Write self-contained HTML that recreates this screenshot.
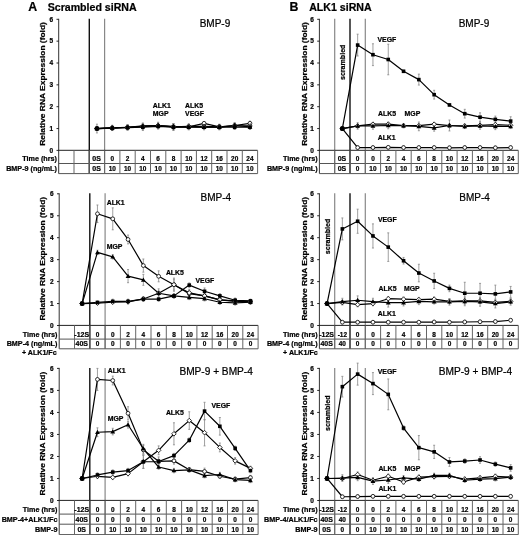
<!DOCTYPE html><html><head><meta charset="utf-8"><style>html,body{margin:0;padding:0;background:#fff}svg{display:block;filter:blur(0.35px)}text{font-family:"Liberation Sans",sans-serif;fill:#000;stroke:#000;stroke-width:0.22px}</style></head><body>
<svg width="520" height="535" viewBox="0 0 520 535">
<rect width="520" height="535" fill="#fff"/>
<text x="28.3" y="11.2" font-size="12.3" font-weight="bold" text-anchor="start">A</text>
<text x="47.7" y="11" font-size="10.6" font-weight="bold" text-anchor="start">Scrambled siRNA</text>
<text x="289.6" y="10.6" font-size="12.3" font-weight="bold" text-anchor="start">B</text>
<text x="309.2" y="10.6" font-size="10.6" font-weight="bold" text-anchor="start">ALK1 siRNA</text>
<line x1="89.3" y1="18.8" x2="89.3" y2="173.6" stroke="#111" stroke-width="1.4"/>
<line x1="104.6" y1="18.8" x2="104.6" y2="173.6" stroke="#888" stroke-width="1.2"/>
<line x1="58.7" y1="18.8" x2="58.7" y2="173.6" stroke="#333" stroke-width="1.0"/>
<line x1="56.5" y1="150.4" x2="58.7" y2="150.4" stroke="#111" stroke-width="0.9"/>
<text x="53.1" y="152.7" font-size="6.5" font-weight="bold" text-anchor="end">0</text>
<line x1="56.5" y1="128.55" x2="58.7" y2="128.55" stroke="#111" stroke-width="0.9"/>
<text x="53.1" y="130.85" font-size="6.5" font-weight="bold" text-anchor="end">1</text>
<line x1="56.5" y1="106.7" x2="58.7" y2="106.7" stroke="#111" stroke-width="0.9"/>
<text x="53.1" y="109" font-size="6.5" font-weight="bold" text-anchor="end">2</text>
<line x1="56.5" y1="84.85" x2="58.7" y2="84.85" stroke="#111" stroke-width="0.9"/>
<text x="53.1" y="87.15" font-size="6.5" font-weight="bold" text-anchor="end">3</text>
<line x1="56.5" y1="63" x2="58.7" y2="63" stroke="#111" stroke-width="0.9"/>
<text x="53.1" y="65.3" font-size="6.5" font-weight="bold" text-anchor="end">4</text>
<line x1="56.5" y1="41.15" x2="58.7" y2="41.15" stroke="#111" stroke-width="0.9"/>
<text x="53.1" y="43.45" font-size="6.5" font-weight="bold" text-anchor="end">5</text>
<line x1="56.5" y1="19.3" x2="58.7" y2="19.3" stroke="#111" stroke-width="0.9"/>
<text x="53.1" y="21.6" font-size="6.5" font-weight="bold" text-anchor="end">6</text>
<text x="0" y="0" font-size="7.4" font-weight="bold" text-anchor="middle" transform="translate(45.4 83.95) rotate(-90) scale(1.14 1)">Relative RNA Expression (fold)</text>
<line x1="58.2" y1="150.3" x2="257.6" y2="150.3" stroke="#222" stroke-width="1.0"/>
<line x1="58.7" y1="163.5" x2="257.6" y2="163.5" stroke="#555" stroke-width="1.0"/>
<line x1="58.7" y1="173.6" x2="257.6" y2="173.6" stroke="#555" stroke-width="1.0"/>
<line x1="74" y1="150.3" x2="74" y2="173.6" stroke="#666" stroke-width="1.0"/>
<line x1="89.3" y1="150.3" x2="89.3" y2="173.6" stroke="#666" stroke-width="1.0"/>
<line x1="104.6" y1="150.3" x2="104.6" y2="173.6" stroke="#666" stroke-width="1.0"/>
<line x1="119.9" y1="150.3" x2="119.9" y2="173.6" stroke="#666" stroke-width="1.0"/>
<line x1="135.2" y1="150.3" x2="135.2" y2="173.6" stroke="#666" stroke-width="1.0"/>
<line x1="150.5" y1="150.3" x2="150.5" y2="173.6" stroke="#666" stroke-width="1.0"/>
<line x1="165.8" y1="150.3" x2="165.8" y2="173.6" stroke="#666" stroke-width="1.0"/>
<line x1="181.1" y1="150.3" x2="181.1" y2="173.6" stroke="#666" stroke-width="1.0"/>
<line x1="196.4" y1="150.3" x2="196.4" y2="173.6" stroke="#666" stroke-width="1.0"/>
<line x1="211.7" y1="150.3" x2="211.7" y2="173.6" stroke="#666" stroke-width="1.0"/>
<line x1="227" y1="150.3" x2="227" y2="173.6" stroke="#666" stroke-width="1.0"/>
<line x1="242.3" y1="150.3" x2="242.3" y2="173.6" stroke="#666" stroke-width="1.0"/>
<line x1="257.6" y1="150.3" x2="257.6" y2="173.6" stroke="#666" stroke-width="1.0"/>
<text x="96.55" y="161.1" font-size="7.0" font-weight="bold" text-anchor="middle">0S</text>
<text transform="translate(112.25 161.1) scale(0.95 1)" font-size="6.8" font-weight="bold" text-anchor="middle">0</text>
<text transform="translate(127.55 161.1) scale(0.95 1)" font-size="6.8" font-weight="bold" text-anchor="middle">2</text>
<text transform="translate(142.85 161.1) scale(0.95 1)" font-size="6.8" font-weight="bold" text-anchor="middle">4</text>
<text transform="translate(158.15 161.1) scale(0.95 1)" font-size="6.8" font-weight="bold" text-anchor="middle">6</text>
<text transform="translate(173.45 161.1) scale(0.95 1)" font-size="6.8" font-weight="bold" text-anchor="middle">8</text>
<text transform="translate(188.75 161.1) scale(0.95 1)" font-size="6.8" font-weight="bold" text-anchor="middle">10</text>
<text transform="translate(204.05 161.1) scale(0.95 1)" font-size="6.8" font-weight="bold" text-anchor="middle">12</text>
<text transform="translate(219.35 161.1) scale(0.95 1)" font-size="6.8" font-weight="bold" text-anchor="middle">16</text>
<text transform="translate(234.65 161.1) scale(0.95 1)" font-size="6.8" font-weight="bold" text-anchor="middle">20</text>
<text transform="translate(249.95 161.1) scale(0.95 1)" font-size="6.8" font-weight="bold" text-anchor="middle">24</text>
<text x="56.9" y="161.1" font-size="7.2" font-weight="bold" text-anchor="end">Time (hrs)</text>
<text x="96.55" y="171.2" font-size="7.0" font-weight="bold" text-anchor="middle">0S</text>
<text transform="translate(112.25 171.2) scale(0.95 1)" font-size="6.8" font-weight="bold" text-anchor="middle">10</text>
<text transform="translate(127.55 171.2) scale(0.95 1)" font-size="6.8" font-weight="bold" text-anchor="middle">10</text>
<text transform="translate(142.85 171.2) scale(0.95 1)" font-size="6.8" font-weight="bold" text-anchor="middle">10</text>
<text transform="translate(158.15 171.2) scale(0.95 1)" font-size="6.8" font-weight="bold" text-anchor="middle">10</text>
<text transform="translate(173.45 171.2) scale(0.95 1)" font-size="6.8" font-weight="bold" text-anchor="middle">10</text>
<text transform="translate(188.75 171.2) scale(0.95 1)" font-size="6.8" font-weight="bold" text-anchor="middle">10</text>
<text transform="translate(204.05 171.2) scale(0.95 1)" font-size="6.8" font-weight="bold" text-anchor="middle">10</text>
<text transform="translate(219.35 171.2) scale(0.95 1)" font-size="6.8" font-weight="bold" text-anchor="middle">10</text>
<text transform="translate(234.65 171.2) scale(0.95 1)" font-size="6.8" font-weight="bold" text-anchor="middle">10</text>
<text transform="translate(249.95 171.2) scale(0.95 1)" font-size="6.8" font-weight="bold" text-anchor="middle">10</text>
<text x="56.9" y="171.2" font-size="7.2" font-weight="bold" text-anchor="end">BMP-9 (ng/mL)</text>
<text x="199.7" y="26.7" font-size="10" font-weight="normal" text-anchor="start">BMP-9</text>
<line x1="112.25" y1="125.93" x2="112.25" y2="130.3" stroke="#888" stroke-width="0.8"/>
<line x1="111.25" y1="125.93" x2="113.25" y2="125.93" stroke="#888" stroke-width="0.8"/>
<line x1="111.25" y1="130.3" x2="113.25" y2="130.3" stroke="#888" stroke-width="0.8"/>
<line x1="127.55" y1="125.27" x2="127.55" y2="129.64" stroke="#888" stroke-width="0.8"/>
<line x1="126.55" y1="125.27" x2="128.55" y2="125.27" stroke="#888" stroke-width="0.8"/>
<line x1="126.55" y1="129.64" x2="128.55" y2="129.64" stroke="#888" stroke-width="0.8"/>
<line x1="142.85" y1="124.18" x2="142.85" y2="128.55" stroke="#888" stroke-width="0.8"/>
<line x1="141.85" y1="124.18" x2="143.85" y2="124.18" stroke="#888" stroke-width="0.8"/>
<line x1="141.85" y1="128.55" x2="143.85" y2="128.55" stroke="#888" stroke-width="0.8"/>
<line x1="158.15" y1="123.31" x2="158.15" y2="128.55" stroke="#888" stroke-width="0.8"/>
<line x1="157.15" y1="123.31" x2="159.15" y2="123.31" stroke="#888" stroke-width="0.8"/>
<line x1="157.15" y1="128.55" x2="159.15" y2="128.55" stroke="#888" stroke-width="0.8"/>
<line x1="173.45" y1="124.18" x2="173.45" y2="129.42" stroke="#888" stroke-width="0.8"/>
<line x1="172.45" y1="124.18" x2="174.45" y2="124.18" stroke="#888" stroke-width="0.8"/>
<line x1="172.45" y1="129.42" x2="174.45" y2="129.42" stroke="#888" stroke-width="0.8"/>
<line x1="188.75" y1="124.62" x2="188.75" y2="128.99" stroke="#888" stroke-width="0.8"/>
<line x1="187.75" y1="124.62" x2="189.75" y2="124.62" stroke="#888" stroke-width="0.8"/>
<line x1="187.75" y1="128.99" x2="189.75" y2="128.99" stroke="#888" stroke-width="0.8"/>
<line x1="204.05" y1="121.56" x2="204.05" y2="125.05" stroke="#888" stroke-width="0.8"/>
<line x1="203.05" y1="121.56" x2="205.05" y2="121.56" stroke="#888" stroke-width="0.8"/>
<line x1="203.05" y1="125.05" x2="205.05" y2="125.05" stroke="#888" stroke-width="0.8"/>
<line x1="219.35" y1="124.62" x2="219.35" y2="128.99" stroke="#888" stroke-width="0.8"/>
<line x1="218.35" y1="124.62" x2="220.35" y2="124.62" stroke="#888" stroke-width="0.8"/>
<line x1="218.35" y1="128.99" x2="220.35" y2="128.99" stroke="#888" stroke-width="0.8"/>
<line x1="234.65" y1="123.31" x2="234.65" y2="127.68" stroke="#888" stroke-width="0.8"/>
<line x1="233.65" y1="123.31" x2="235.65" y2="123.31" stroke="#888" stroke-width="0.8"/>
<line x1="233.65" y1="127.68" x2="235.65" y2="127.68" stroke="#888" stroke-width="0.8"/>
<line x1="249.95" y1="121.12" x2="249.95" y2="125.49" stroke="#888" stroke-width="0.8"/>
<line x1="248.95" y1="121.12" x2="250.95" y2="121.12" stroke="#888" stroke-width="0.8"/>
<line x1="248.95" y1="125.49" x2="250.95" y2="125.49" stroke="#888" stroke-width="0.8"/>
<line x1="112.25" y1="125.27" x2="112.25" y2="130.52" stroke="#888" stroke-width="0.8"/>
<line x1="111.25" y1="125.27" x2="113.25" y2="125.27" stroke="#888" stroke-width="0.8"/>
<line x1="111.25" y1="130.52" x2="113.25" y2="130.52" stroke="#888" stroke-width="0.8"/>
<line x1="127.55" y1="125.05" x2="127.55" y2="129.42" stroke="#888" stroke-width="0.8"/>
<line x1="126.55" y1="125.05" x2="128.55" y2="125.05" stroke="#888" stroke-width="0.8"/>
<line x1="126.55" y1="129.42" x2="128.55" y2="129.42" stroke="#888" stroke-width="0.8"/>
<line x1="142.85" y1="123.09" x2="142.85" y2="129.64" stroke="#888" stroke-width="0.8"/>
<line x1="141.85" y1="123.09" x2="143.85" y2="123.09" stroke="#888" stroke-width="0.8"/>
<line x1="141.85" y1="129.64" x2="143.85" y2="129.64" stroke="#888" stroke-width="0.8"/>
<line x1="158.15" y1="122.87" x2="158.15" y2="128.11" stroke="#888" stroke-width="0.8"/>
<line x1="157.15" y1="122.87" x2="159.15" y2="122.87" stroke="#888" stroke-width="0.8"/>
<line x1="157.15" y1="128.11" x2="159.15" y2="128.11" stroke="#888" stroke-width="0.8"/>
<line x1="173.45" y1="123.52" x2="173.45" y2="130.08" stroke="#888" stroke-width="0.8"/>
<line x1="172.45" y1="123.52" x2="174.45" y2="123.52" stroke="#888" stroke-width="0.8"/>
<line x1="172.45" y1="130.08" x2="174.45" y2="130.08" stroke="#888" stroke-width="0.8"/>
<line x1="188.75" y1="123.74" x2="188.75" y2="128.99" stroke="#888" stroke-width="0.8"/>
<line x1="187.75" y1="123.74" x2="189.75" y2="123.74" stroke="#888" stroke-width="0.8"/>
<line x1="187.75" y1="128.99" x2="189.75" y2="128.99" stroke="#888" stroke-width="0.8"/>
<line x1="204.05" y1="124.18" x2="204.05" y2="128.55" stroke="#888" stroke-width="0.8"/>
<line x1="203.05" y1="124.18" x2="205.05" y2="124.18" stroke="#888" stroke-width="0.8"/>
<line x1="203.05" y1="128.55" x2="205.05" y2="128.55" stroke="#888" stroke-width="0.8"/>
<line x1="219.35" y1="124.18" x2="219.35" y2="129.42" stroke="#888" stroke-width="0.8"/>
<line x1="218.35" y1="124.18" x2="220.35" y2="124.18" stroke="#888" stroke-width="0.8"/>
<line x1="218.35" y1="129.42" x2="220.35" y2="129.42" stroke="#888" stroke-width="0.8"/>
<line x1="234.65" y1="122.65" x2="234.65" y2="129.21" stroke="#888" stroke-width="0.8"/>
<line x1="233.65" y1="122.65" x2="235.65" y2="122.65" stroke="#888" stroke-width="0.8"/>
<line x1="233.65" y1="129.21" x2="235.65" y2="129.21" stroke="#888" stroke-width="0.8"/>
<line x1="249.95" y1="123.31" x2="249.95" y2="128.55" stroke="#888" stroke-width="0.8"/>
<line x1="248.95" y1="123.31" x2="250.95" y2="123.31" stroke="#888" stroke-width="0.8"/>
<line x1="248.95" y1="128.55" x2="250.95" y2="128.55" stroke="#888" stroke-width="0.8"/>
<line x1="112.25" y1="125.93" x2="112.25" y2="129.42" stroke="#888" stroke-width="0.8"/>
<line x1="111.25" y1="125.93" x2="113.25" y2="125.93" stroke="#888" stroke-width="0.8"/>
<line x1="111.25" y1="129.42" x2="113.25" y2="129.42" stroke="#888" stroke-width="0.8"/>
<line x1="127.55" y1="124.62" x2="127.55" y2="129.86" stroke="#888" stroke-width="0.8"/>
<line x1="126.55" y1="124.62" x2="128.55" y2="124.62" stroke="#888" stroke-width="0.8"/>
<line x1="126.55" y1="129.86" x2="128.55" y2="129.86" stroke="#888" stroke-width="0.8"/>
<line x1="142.85" y1="123.31" x2="142.85" y2="128.55" stroke="#888" stroke-width="0.8"/>
<line x1="141.85" y1="123.31" x2="143.85" y2="123.31" stroke="#888" stroke-width="0.8"/>
<line x1="141.85" y1="128.55" x2="143.85" y2="128.55" stroke="#888" stroke-width="0.8"/>
<line x1="158.15" y1="122.21" x2="158.15" y2="128.77" stroke="#888" stroke-width="0.8"/>
<line x1="157.15" y1="122.21" x2="159.15" y2="122.21" stroke="#888" stroke-width="0.8"/>
<line x1="157.15" y1="128.77" x2="159.15" y2="128.77" stroke="#888" stroke-width="0.8"/>
<line x1="173.45" y1="123.74" x2="173.45" y2="128.99" stroke="#888" stroke-width="0.8"/>
<line x1="172.45" y1="123.74" x2="174.45" y2="123.74" stroke="#888" stroke-width="0.8"/>
<line x1="172.45" y1="128.99" x2="174.45" y2="128.99" stroke="#888" stroke-width="0.8"/>
<line x1="188.75" y1="124.62" x2="188.75" y2="128.99" stroke="#888" stroke-width="0.8"/>
<line x1="187.75" y1="124.62" x2="189.75" y2="124.62" stroke="#888" stroke-width="0.8"/>
<line x1="187.75" y1="128.99" x2="189.75" y2="128.99" stroke="#888" stroke-width="0.8"/>
<line x1="204.05" y1="124.62" x2="204.05" y2="129.86" stroke="#888" stroke-width="0.8"/>
<line x1="203.05" y1="124.62" x2="205.05" y2="124.62" stroke="#888" stroke-width="0.8"/>
<line x1="203.05" y1="129.86" x2="205.05" y2="129.86" stroke="#888" stroke-width="0.8"/>
<line x1="219.35" y1="125.05" x2="219.35" y2="129.42" stroke="#888" stroke-width="0.8"/>
<line x1="218.35" y1="125.05" x2="220.35" y2="125.05" stroke="#888" stroke-width="0.8"/>
<line x1="218.35" y1="129.42" x2="220.35" y2="129.42" stroke="#888" stroke-width="0.8"/>
<line x1="234.65" y1="123.31" x2="234.65" y2="127.68" stroke="#888" stroke-width="0.8"/>
<line x1="233.65" y1="123.31" x2="235.65" y2="123.31" stroke="#888" stroke-width="0.8"/>
<line x1="233.65" y1="127.68" x2="235.65" y2="127.68" stroke="#888" stroke-width="0.8"/>
<line x1="249.95" y1="124.62" x2="249.95" y2="128.99" stroke="#888" stroke-width="0.8"/>
<line x1="248.95" y1="124.62" x2="250.95" y2="124.62" stroke="#888" stroke-width="0.8"/>
<line x1="248.95" y1="128.99" x2="250.95" y2="128.99" stroke="#888" stroke-width="0.8"/>
<line x1="96.95" y1="124.18" x2="96.95" y2="132.92" stroke="#888" stroke-width="0.8"/>
<line x1="95.95" y1="124.18" x2="97.95" y2="124.18" stroke="#888" stroke-width="0.8"/>
<line x1="95.95" y1="132.92" x2="97.95" y2="132.92" stroke="#888" stroke-width="0.8"/>
<line x1="112.25" y1="125.93" x2="112.25" y2="130.3" stroke="#888" stroke-width="0.8"/>
<line x1="111.25" y1="125.93" x2="113.25" y2="125.93" stroke="#888" stroke-width="0.8"/>
<line x1="111.25" y1="130.3" x2="113.25" y2="130.3" stroke="#888" stroke-width="0.8"/>
<line x1="127.55" y1="125.05" x2="127.55" y2="130.3" stroke="#888" stroke-width="0.8"/>
<line x1="126.55" y1="125.05" x2="128.55" y2="125.05" stroke="#888" stroke-width="0.8"/>
<line x1="126.55" y1="130.3" x2="128.55" y2="130.3" stroke="#888" stroke-width="0.8"/>
<line x1="142.85" y1="123.96" x2="142.85" y2="130.52" stroke="#888" stroke-width="0.8"/>
<line x1="141.85" y1="123.96" x2="143.85" y2="123.96" stroke="#888" stroke-width="0.8"/>
<line x1="141.85" y1="130.52" x2="143.85" y2="130.52" stroke="#888" stroke-width="0.8"/>
<line x1="158.15" y1="123.74" x2="158.15" y2="128.99" stroke="#888" stroke-width="0.8"/>
<line x1="157.15" y1="123.74" x2="159.15" y2="123.74" stroke="#888" stroke-width="0.8"/>
<line x1="157.15" y1="128.99" x2="159.15" y2="128.99" stroke="#888" stroke-width="0.8"/>
<line x1="173.45" y1="123.96" x2="173.45" y2="130.52" stroke="#888" stroke-width="0.8"/>
<line x1="172.45" y1="123.96" x2="174.45" y2="123.96" stroke="#888" stroke-width="0.8"/>
<line x1="172.45" y1="130.52" x2="174.45" y2="130.52" stroke="#888" stroke-width="0.8"/>
<line x1="188.75" y1="124.62" x2="188.75" y2="129.86" stroke="#888" stroke-width="0.8"/>
<line x1="187.75" y1="124.62" x2="189.75" y2="124.62" stroke="#888" stroke-width="0.8"/>
<line x1="187.75" y1="129.86" x2="189.75" y2="129.86" stroke="#888" stroke-width="0.8"/>
<line x1="204.05" y1="125.05" x2="204.05" y2="129.42" stroke="#888" stroke-width="0.8"/>
<line x1="203.05" y1="125.05" x2="205.05" y2="125.05" stroke="#888" stroke-width="0.8"/>
<line x1="203.05" y1="129.42" x2="205.05" y2="129.42" stroke="#888" stroke-width="0.8"/>
<line x1="219.35" y1="124.62" x2="219.35" y2="129.86" stroke="#888" stroke-width="0.8"/>
<line x1="218.35" y1="124.62" x2="220.35" y2="124.62" stroke="#888" stroke-width="0.8"/>
<line x1="218.35" y1="129.86" x2="220.35" y2="129.86" stroke="#888" stroke-width="0.8"/>
<line x1="234.65" y1="125.05" x2="234.65" y2="129.42" stroke="#888" stroke-width="0.8"/>
<line x1="233.65" y1="125.05" x2="235.65" y2="125.05" stroke="#888" stroke-width="0.8"/>
<line x1="233.65" y1="129.42" x2="235.65" y2="129.42" stroke="#888" stroke-width="0.8"/>
<line x1="249.95" y1="125.05" x2="249.95" y2="129.42" stroke="#888" stroke-width="0.8"/>
<line x1="248.95" y1="125.05" x2="250.95" y2="125.05" stroke="#888" stroke-width="0.8"/>
<line x1="248.95" y1="129.42" x2="250.95" y2="129.42" stroke="#888" stroke-width="0.8"/>
<path d="M96.95 128.55L112.25 128.11L127.55 127.46L142.85 126.37L158.15 125.93L173.45 126.8L188.75 126.8L204.05 123.31L219.35 126.8L234.65 125.49L249.95 123.31" fill="none" stroke="#000" stroke-width="1.2" stroke-linejoin="round"/>
<path d="M96.95 128.55L112.25 127.89L127.55 127.24L142.85 126.37L158.15 125.49L173.45 126.8L188.75 126.37L204.05 126.37L219.35 126.8L234.65 125.93L249.95 125.93" fill="none" stroke="#000" stroke-width="1.2" stroke-linejoin="round"/>
<path d="M96.95 128.55L112.25 127.68L127.55 127.24L142.85 125.93L158.15 125.49L173.45 126.37L188.75 126.8L204.05 127.24L219.35 127.24L234.65 125.49L249.95 126.8" fill="none" stroke="#000" stroke-width="1.2" stroke-linejoin="round"/>
<path d="M96.95 128.55L112.25 128.11L127.55 127.68L142.85 127.24L158.15 126.37L173.45 127.24L188.75 127.24L204.05 127.24L219.35 127.24L234.65 127.24L249.95 127.24" fill="none" stroke="#000" stroke-width="1.2" stroke-linejoin="round"/>
<circle cx="96.95" cy="128.55" r="1.9" fill="#fff" stroke="#000" stroke-width="0.8"/>
<circle cx="112.25" cy="128.11" r="1.9" fill="#fff" stroke="#000" stroke-width="0.8"/>
<circle cx="127.55" cy="127.46" r="1.9" fill="#fff" stroke="#000" stroke-width="0.8"/>
<circle cx="142.85" cy="126.37" r="1.9" fill="#fff" stroke="#000" stroke-width="0.8"/>
<circle cx="158.15" cy="125.93" r="1.9" fill="#fff" stroke="#000" stroke-width="0.8"/>
<circle cx="173.45" cy="126.8" r="1.9" fill="#fff" stroke="#000" stroke-width="0.8"/>
<circle cx="188.75" cy="126.8" r="1.9" fill="#fff" stroke="#000" stroke-width="0.8"/>
<circle cx="204.05" cy="123.31" r="1.9" fill="#fff" stroke="#000" stroke-width="0.8"/>
<circle cx="219.35" cy="126.8" r="1.9" fill="#fff" stroke="#000" stroke-width="0.8"/>
<circle cx="234.65" cy="125.49" r="1.9" fill="#fff" stroke="#000" stroke-width="0.8"/>
<circle cx="249.95" cy="123.31" r="1.9" fill="#fff" stroke="#000" stroke-width="0.8"/>
<path d="M96.95 126.25L99.25 128.55L96.95 130.85L94.65 128.55Z" fill="#fff" stroke="#000" stroke-width="0.8"/>
<path d="M112.25 125.59L114.55 127.89L112.25 130.19L109.95 127.89Z" fill="#fff" stroke="#000" stroke-width="0.8"/>
<path d="M127.55 124.94L129.85 127.24L127.55 129.54L125.25 127.24Z" fill="#fff" stroke="#000" stroke-width="0.8"/>
<path d="M142.85 124.07L145.15 126.37L142.85 128.67L140.55 126.37Z" fill="#fff" stroke="#000" stroke-width="0.8"/>
<path d="M158.15 123.19L160.45 125.49L158.15 127.79L155.85 125.49Z" fill="#fff" stroke="#000" stroke-width="0.8"/>
<path d="M173.45 124.5L175.75 126.8L173.45 129.1L171.15 126.8Z" fill="#fff" stroke="#000" stroke-width="0.8"/>
<path d="M188.75 124.07L191.05 126.37L188.75 128.67L186.45 126.37Z" fill="#fff" stroke="#000" stroke-width="0.8"/>
<path d="M204.05 124.07L206.35 126.37L204.05 128.67L201.75 126.37Z" fill="#fff" stroke="#000" stroke-width="0.8"/>
<path d="M219.35 124.5L221.65 126.8L219.35 129.1L217.05 126.8Z" fill="#fff" stroke="#000" stroke-width="0.8"/>
<path d="M234.65 123.63L236.95 125.93L234.65 128.23L232.35 125.93Z" fill="#fff" stroke="#000" stroke-width="0.8"/>
<path d="M249.95 123.63L252.25 125.93L249.95 128.23L247.65 125.93Z" fill="#fff" stroke="#000" stroke-width="0.8"/>
<path d="M96.95 126.15L99.35 130.35L94.55 130.35Z" fill="#000"/>
<path d="M112.25 125.28L114.65 129.48L109.85 129.48Z" fill="#000"/>
<path d="M127.55 124.84L129.95 129.04L125.15 129.04Z" fill="#000"/>
<path d="M142.85 123.53L145.25 127.73L140.45 127.73Z" fill="#000"/>
<path d="M158.15 123.09L160.55 127.29L155.75 127.29Z" fill="#000"/>
<path d="M173.45 123.97L175.85 128.17L171.05 128.17Z" fill="#000"/>
<path d="M188.75 124.4L191.15 128.6L186.35 128.6Z" fill="#000"/>
<path d="M204.05 124.84L206.45 129.04L201.65 129.04Z" fill="#000"/>
<path d="M219.35 124.84L221.75 129.04L216.95 129.04Z" fill="#000"/>
<path d="M234.65 123.09L237.05 127.29L232.25 127.29Z" fill="#000"/>
<path d="M249.95 124.4L252.35 128.6L247.55 128.6Z" fill="#000"/>
<rect x="95.15" y="126.75" width="3.6" height="3.6" fill="#000"/>
<rect x="110.45" y="126.31" width="3.6" height="3.6" fill="#000"/>
<rect x="125.75" y="125.88" width="3.6" height="3.6" fill="#000"/>
<rect x="141.05" y="125.44" width="3.6" height="3.6" fill="#000"/>
<rect x="156.35" y="124.57" width="3.6" height="3.6" fill="#000"/>
<rect x="171.65" y="125.44" width="3.6" height="3.6" fill="#000"/>
<rect x="186.95" y="125.44" width="3.6" height="3.6" fill="#000"/>
<rect x="202.25" y="125.44" width="3.6" height="3.6" fill="#000"/>
<rect x="217.55" y="125.44" width="3.6" height="3.6" fill="#000"/>
<rect x="232.85" y="125.44" width="3.6" height="3.6" fill="#000"/>
<rect x="248.15" y="125.44" width="3.6" height="3.6" fill="#000"/>
<circle cx="96.95" cy="128.55" r="2.4" fill="#000"/>
<text x="152.8" y="107.8" font-size="6.9" font-weight="bold" text-anchor="start">ALK1</text>
<text x="152.8" y="115.9" font-size="6.9" font-weight="bold" text-anchor="start">MGP</text>
<text x="185.1" y="107.8" font-size="6.9" font-weight="bold" text-anchor="start">ALK5</text>
<text x="185.1" y="115.9" font-size="6.9" font-weight="bold" text-anchor="start">VEGF</text>
<line x1="334.7" y1="18.8" x2="334.7" y2="173.6" stroke="#888" stroke-width="1.2"/>
<line x1="350" y1="18.8" x2="350" y2="173.6" stroke="#111" stroke-width="1.4"/>
<line x1="365.3" y1="18.8" x2="365.3" y2="173.6" stroke="#888" stroke-width="1.2"/>
<line x1="319.4" y1="18.8" x2="319.4" y2="173.6" stroke="#333" stroke-width="1.0"/>
<line x1="317.2" y1="150.4" x2="319.4" y2="150.4" stroke="#111" stroke-width="0.9"/>
<text x="313.8" y="152.7" font-size="6.5" font-weight="bold" text-anchor="end">0</text>
<line x1="317.2" y1="128.55" x2="319.4" y2="128.55" stroke="#111" stroke-width="0.9"/>
<text x="313.8" y="130.85" font-size="6.5" font-weight="bold" text-anchor="end">1</text>
<line x1="317.2" y1="106.7" x2="319.4" y2="106.7" stroke="#111" stroke-width="0.9"/>
<text x="313.8" y="109" font-size="6.5" font-weight="bold" text-anchor="end">2</text>
<line x1="317.2" y1="84.85" x2="319.4" y2="84.85" stroke="#111" stroke-width="0.9"/>
<text x="313.8" y="87.15" font-size="6.5" font-weight="bold" text-anchor="end">3</text>
<line x1="317.2" y1="63" x2="319.4" y2="63" stroke="#111" stroke-width="0.9"/>
<text x="313.8" y="65.3" font-size="6.5" font-weight="bold" text-anchor="end">4</text>
<line x1="317.2" y1="41.15" x2="319.4" y2="41.15" stroke="#111" stroke-width="0.9"/>
<text x="313.8" y="43.45" font-size="6.5" font-weight="bold" text-anchor="end">5</text>
<line x1="317.2" y1="19.3" x2="319.4" y2="19.3" stroke="#111" stroke-width="0.9"/>
<text x="313.8" y="21.6" font-size="6.5" font-weight="bold" text-anchor="end">6</text>
<text x="0" y="0" font-size="7.4" font-weight="bold" text-anchor="middle" transform="translate(306.5 83.95) rotate(-90) scale(1.14 1)">Relative RNA Expression (fold)</text>
<line x1="318.9" y1="150.3" x2="518.3" y2="150.3" stroke="#222" stroke-width="1.0"/>
<line x1="319.4" y1="163.5" x2="518.3" y2="163.5" stroke="#555" stroke-width="1.0"/>
<line x1="319.4" y1="173.6" x2="518.3" y2="173.6" stroke="#555" stroke-width="1.0"/>
<line x1="334.7" y1="150.3" x2="334.7" y2="173.6" stroke="#666" stroke-width="1.0"/>
<line x1="350" y1="150.3" x2="350" y2="173.6" stroke="#666" stroke-width="1.0"/>
<line x1="365.3" y1="150.3" x2="365.3" y2="173.6" stroke="#666" stroke-width="1.0"/>
<line x1="380.6" y1="150.3" x2="380.6" y2="173.6" stroke="#666" stroke-width="1.0"/>
<line x1="395.9" y1="150.3" x2="395.9" y2="173.6" stroke="#666" stroke-width="1.0"/>
<line x1="411.2" y1="150.3" x2="411.2" y2="173.6" stroke="#666" stroke-width="1.0"/>
<line x1="426.5" y1="150.3" x2="426.5" y2="173.6" stroke="#666" stroke-width="1.0"/>
<line x1="441.8" y1="150.3" x2="441.8" y2="173.6" stroke="#666" stroke-width="1.0"/>
<line x1="457.1" y1="150.3" x2="457.1" y2="173.6" stroke="#666" stroke-width="1.0"/>
<line x1="472.4" y1="150.3" x2="472.4" y2="173.6" stroke="#666" stroke-width="1.0"/>
<line x1="487.7" y1="150.3" x2="487.7" y2="173.6" stroke="#666" stroke-width="1.0"/>
<line x1="503" y1="150.3" x2="503" y2="173.6" stroke="#666" stroke-width="1.0"/>
<line x1="518.3" y1="150.3" x2="518.3" y2="173.6" stroke="#666" stroke-width="1.0"/>
<text x="341.95" y="161.1" font-size="7.0" font-weight="bold" text-anchor="middle">0S</text>
<text transform="translate(357.65 161.1) scale(0.95 1)" font-size="6.8" font-weight="bold" text-anchor="middle">0</text>
<text transform="translate(372.95 161.1) scale(0.95 1)" font-size="6.8" font-weight="bold" text-anchor="middle">0</text>
<text transform="translate(388.25 161.1) scale(0.95 1)" font-size="6.8" font-weight="bold" text-anchor="middle">2</text>
<text transform="translate(403.55 161.1) scale(0.95 1)" font-size="6.8" font-weight="bold" text-anchor="middle">4</text>
<text transform="translate(418.85 161.1) scale(0.95 1)" font-size="6.8" font-weight="bold" text-anchor="middle">6</text>
<text transform="translate(434.15 161.1) scale(0.95 1)" font-size="6.8" font-weight="bold" text-anchor="middle">8</text>
<text transform="translate(449.45 161.1) scale(0.95 1)" font-size="6.8" font-weight="bold" text-anchor="middle">10</text>
<text transform="translate(464.75 161.1) scale(0.95 1)" font-size="6.8" font-weight="bold" text-anchor="middle">12</text>
<text transform="translate(480.05 161.1) scale(0.95 1)" font-size="6.8" font-weight="bold" text-anchor="middle">16</text>
<text transform="translate(495.35 161.1) scale(0.95 1)" font-size="6.8" font-weight="bold" text-anchor="middle">20</text>
<text transform="translate(510.65 161.1) scale(0.95 1)" font-size="6.8" font-weight="bold" text-anchor="middle">24</text>
<text x="317.6" y="161.1" font-size="7.2" font-weight="bold" text-anchor="end">Time (hrs)</text>
<text x="341.95" y="171.2" font-size="7.0" font-weight="bold" text-anchor="middle">0S</text>
<text transform="translate(357.65 171.2) scale(0.95 1)" font-size="6.8" font-weight="bold" text-anchor="middle">0</text>
<text transform="translate(372.95 171.2) scale(0.95 1)" font-size="6.8" font-weight="bold" text-anchor="middle">10</text>
<text transform="translate(388.25 171.2) scale(0.95 1)" font-size="6.8" font-weight="bold" text-anchor="middle">10</text>
<text transform="translate(403.55 171.2) scale(0.95 1)" font-size="6.8" font-weight="bold" text-anchor="middle">10</text>
<text transform="translate(418.85 171.2) scale(0.95 1)" font-size="6.8" font-weight="bold" text-anchor="middle">10</text>
<text transform="translate(434.15 171.2) scale(0.95 1)" font-size="6.8" font-weight="bold" text-anchor="middle">10</text>
<text transform="translate(449.45 171.2) scale(0.95 1)" font-size="6.8" font-weight="bold" text-anchor="middle">10</text>
<text transform="translate(464.75 171.2) scale(0.95 1)" font-size="6.8" font-weight="bold" text-anchor="middle">10</text>
<text transform="translate(480.05 171.2) scale(0.95 1)" font-size="6.8" font-weight="bold" text-anchor="middle">10</text>
<text transform="translate(495.35 171.2) scale(0.95 1)" font-size="6.8" font-weight="bold" text-anchor="middle">10</text>
<text transform="translate(510.65 171.2) scale(0.95 1)" font-size="6.8" font-weight="bold" text-anchor="middle">10</text>
<text x="317.6" y="171.2" font-size="7.2" font-weight="bold" text-anchor="end">BMP-9 (ng/mL)</text>
<text x="458.7" y="26.7" font-size="10" font-weight="normal" text-anchor="start">BMP-9</text>
<text x="0" y="0" font-size="7.1" font-weight="bold" text-anchor="middle" transform="translate(345.1 62.3) rotate(-90)">scrambled</text>
<line x1="342.35" y1="126.8" x2="342.35" y2="130.3" stroke="#888" stroke-width="0.8"/>
<line x1="341.35" y1="126.8" x2="343.35" y2="126.8" stroke="#888" stroke-width="0.8"/>
<line x1="341.35" y1="130.3" x2="343.35" y2="130.3" stroke="#888" stroke-width="0.8"/>
<line x1="357.65" y1="145.81" x2="357.65" y2="149.31" stroke="#888" stroke-width="0.8"/>
<line x1="356.65" y1="145.81" x2="358.65" y2="145.81" stroke="#888" stroke-width="0.8"/>
<line x1="356.65" y1="149.31" x2="358.65" y2="149.31" stroke="#888" stroke-width="0.8"/>
<line x1="372.95" y1="145.81" x2="372.95" y2="149.31" stroke="#888" stroke-width="0.8"/>
<line x1="371.95" y1="145.81" x2="373.95" y2="145.81" stroke="#888" stroke-width="0.8"/>
<line x1="371.95" y1="149.31" x2="373.95" y2="149.31" stroke="#888" stroke-width="0.8"/>
<line x1="388.25" y1="145.59" x2="388.25" y2="149.09" stroke="#888" stroke-width="0.8"/>
<line x1="387.25" y1="145.59" x2="389.25" y2="145.59" stroke="#888" stroke-width="0.8"/>
<line x1="387.25" y1="149.09" x2="389.25" y2="149.09" stroke="#888" stroke-width="0.8"/>
<line x1="403.55" y1="145.81" x2="403.55" y2="149.31" stroke="#888" stroke-width="0.8"/>
<line x1="402.55" y1="145.81" x2="404.55" y2="145.81" stroke="#888" stroke-width="0.8"/>
<line x1="402.55" y1="149.31" x2="404.55" y2="149.31" stroke="#888" stroke-width="0.8"/>
<line x1="418.85" y1="145.81" x2="418.85" y2="149.31" stroke="#888" stroke-width="0.8"/>
<line x1="417.85" y1="145.81" x2="419.85" y2="145.81" stroke="#888" stroke-width="0.8"/>
<line x1="417.85" y1="149.31" x2="419.85" y2="149.31" stroke="#888" stroke-width="0.8"/>
<line x1="434.15" y1="145.81" x2="434.15" y2="149.31" stroke="#888" stroke-width="0.8"/>
<line x1="433.15" y1="145.81" x2="435.15" y2="145.81" stroke="#888" stroke-width="0.8"/>
<line x1="433.15" y1="149.31" x2="435.15" y2="149.31" stroke="#888" stroke-width="0.8"/>
<line x1="449.45" y1="146.03" x2="449.45" y2="149.53" stroke="#888" stroke-width="0.8"/>
<line x1="448.45" y1="146.03" x2="450.45" y2="146.03" stroke="#888" stroke-width="0.8"/>
<line x1="448.45" y1="149.53" x2="450.45" y2="149.53" stroke="#888" stroke-width="0.8"/>
<line x1="464.75" y1="145.81" x2="464.75" y2="149.31" stroke="#888" stroke-width="0.8"/>
<line x1="463.75" y1="145.81" x2="465.75" y2="145.81" stroke="#888" stroke-width="0.8"/>
<line x1="463.75" y1="149.31" x2="465.75" y2="149.31" stroke="#888" stroke-width="0.8"/>
<line x1="480.05" y1="145.81" x2="480.05" y2="149.31" stroke="#888" stroke-width="0.8"/>
<line x1="479.05" y1="145.81" x2="481.05" y2="145.81" stroke="#888" stroke-width="0.8"/>
<line x1="479.05" y1="149.31" x2="481.05" y2="149.31" stroke="#888" stroke-width="0.8"/>
<line x1="495.35" y1="146.03" x2="495.35" y2="149.53" stroke="#888" stroke-width="0.8"/>
<line x1="494.35" y1="146.03" x2="496.35" y2="146.03" stroke="#888" stroke-width="0.8"/>
<line x1="494.35" y1="149.53" x2="496.35" y2="149.53" stroke="#888" stroke-width="0.8"/>
<line x1="510.65" y1="145.81" x2="510.65" y2="149.31" stroke="#888" stroke-width="0.8"/>
<line x1="509.65" y1="145.81" x2="511.65" y2="145.81" stroke="#888" stroke-width="0.8"/>
<line x1="509.65" y1="149.31" x2="511.65" y2="149.31" stroke="#888" stroke-width="0.8"/>
<line x1="342.35" y1="126.8" x2="342.35" y2="130.3" stroke="#888" stroke-width="0.8"/>
<line x1="341.35" y1="126.8" x2="343.35" y2="126.8" stroke="#888" stroke-width="0.8"/>
<line x1="341.35" y1="130.3" x2="343.35" y2="130.3" stroke="#888" stroke-width="0.8"/>
<line x1="357.65" y1="124.18" x2="357.65" y2="127.68" stroke="#888" stroke-width="0.8"/>
<line x1="356.65" y1="124.18" x2="358.65" y2="124.18" stroke="#888" stroke-width="0.8"/>
<line x1="356.65" y1="127.68" x2="358.65" y2="127.68" stroke="#888" stroke-width="0.8"/>
<line x1="372.95" y1="122.43" x2="372.95" y2="125.93" stroke="#888" stroke-width="0.8"/>
<line x1="371.95" y1="122.43" x2="373.95" y2="122.43" stroke="#888" stroke-width="0.8"/>
<line x1="371.95" y1="125.93" x2="373.95" y2="125.93" stroke="#888" stroke-width="0.8"/>
<line x1="388.25" y1="122.43" x2="388.25" y2="125.93" stroke="#888" stroke-width="0.8"/>
<line x1="387.25" y1="122.43" x2="389.25" y2="122.43" stroke="#888" stroke-width="0.8"/>
<line x1="387.25" y1="125.93" x2="389.25" y2="125.93" stroke="#888" stroke-width="0.8"/>
<line x1="403.55" y1="123.96" x2="403.55" y2="127.46" stroke="#888" stroke-width="0.8"/>
<line x1="402.55" y1="123.96" x2="404.55" y2="123.96" stroke="#888" stroke-width="0.8"/>
<line x1="402.55" y1="127.46" x2="404.55" y2="127.46" stroke="#888" stroke-width="0.8"/>
<line x1="418.85" y1="123.96" x2="418.85" y2="127.46" stroke="#888" stroke-width="0.8"/>
<line x1="417.85" y1="123.96" x2="419.85" y2="123.96" stroke="#888" stroke-width="0.8"/>
<line x1="417.85" y1="127.46" x2="419.85" y2="127.46" stroke="#888" stroke-width="0.8"/>
<line x1="434.15" y1="122.43" x2="434.15" y2="125.93" stroke="#888" stroke-width="0.8"/>
<line x1="433.15" y1="122.43" x2="435.15" y2="122.43" stroke="#888" stroke-width="0.8"/>
<line x1="433.15" y1="125.93" x2="435.15" y2="125.93" stroke="#888" stroke-width="0.8"/>
<line x1="449.45" y1="123.96" x2="449.45" y2="127.46" stroke="#888" stroke-width="0.8"/>
<line x1="448.45" y1="123.96" x2="450.45" y2="123.96" stroke="#888" stroke-width="0.8"/>
<line x1="448.45" y1="127.46" x2="450.45" y2="127.46" stroke="#888" stroke-width="0.8"/>
<line x1="464.75" y1="124.18" x2="464.75" y2="127.68" stroke="#888" stroke-width="0.8"/>
<line x1="463.75" y1="124.18" x2="465.75" y2="124.18" stroke="#888" stroke-width="0.8"/>
<line x1="463.75" y1="127.68" x2="465.75" y2="127.68" stroke="#888" stroke-width="0.8"/>
<line x1="480.05" y1="123.52" x2="480.05" y2="127.02" stroke="#888" stroke-width="0.8"/>
<line x1="479.05" y1="123.52" x2="481.05" y2="123.52" stroke="#888" stroke-width="0.8"/>
<line x1="479.05" y1="127.02" x2="481.05" y2="127.02" stroke="#888" stroke-width="0.8"/>
<line x1="495.35" y1="122.87" x2="495.35" y2="126.37" stroke="#888" stroke-width="0.8"/>
<line x1="494.35" y1="122.87" x2="496.35" y2="122.87" stroke="#888" stroke-width="0.8"/>
<line x1="494.35" y1="126.37" x2="496.35" y2="126.37" stroke="#888" stroke-width="0.8"/>
<line x1="510.65" y1="123.52" x2="510.65" y2="127.02" stroke="#888" stroke-width="0.8"/>
<line x1="509.65" y1="123.52" x2="511.65" y2="123.52" stroke="#888" stroke-width="0.8"/>
<line x1="509.65" y1="127.02" x2="511.65" y2="127.02" stroke="#888" stroke-width="0.8"/>
<line x1="357.65" y1="122.65" x2="357.65" y2="129.21" stroke="#888" stroke-width="0.8"/>
<line x1="356.65" y1="122.65" x2="358.65" y2="122.65" stroke="#888" stroke-width="0.8"/>
<line x1="356.65" y1="129.21" x2="358.65" y2="129.21" stroke="#888" stroke-width="0.8"/>
<line x1="372.95" y1="122.65" x2="372.95" y2="129.21" stroke="#888" stroke-width="0.8"/>
<line x1="371.95" y1="122.65" x2="373.95" y2="122.65" stroke="#888" stroke-width="0.8"/>
<line x1="371.95" y1="129.21" x2="373.95" y2="129.21" stroke="#888" stroke-width="0.8"/>
<line x1="388.25" y1="122.21" x2="388.25" y2="128.77" stroke="#888" stroke-width="0.8"/>
<line x1="387.25" y1="122.21" x2="389.25" y2="122.21" stroke="#888" stroke-width="0.8"/>
<line x1="387.25" y1="128.77" x2="389.25" y2="128.77" stroke="#888" stroke-width="0.8"/>
<line x1="403.55" y1="123.52" x2="403.55" y2="127.89" stroke="#888" stroke-width="0.8"/>
<line x1="402.55" y1="123.52" x2="404.55" y2="123.52" stroke="#888" stroke-width="0.8"/>
<line x1="402.55" y1="127.89" x2="404.55" y2="127.89" stroke="#888" stroke-width="0.8"/>
<line x1="418.85" y1="122" x2="418.85" y2="130.74" stroke="#888" stroke-width="0.8"/>
<line x1="417.85" y1="122" x2="419.85" y2="122" stroke="#888" stroke-width="0.8"/>
<line x1="417.85" y1="130.74" x2="419.85" y2="130.74" stroke="#888" stroke-width="0.8"/>
<line x1="434.15" y1="124.62" x2="434.15" y2="131.17" stroke="#888" stroke-width="0.8"/>
<line x1="433.15" y1="124.62" x2="435.15" y2="124.62" stroke="#888" stroke-width="0.8"/>
<line x1="433.15" y1="131.17" x2="435.15" y2="131.17" stroke="#888" stroke-width="0.8"/>
<line x1="449.45" y1="120.03" x2="449.45" y2="130.95" stroke="#888" stroke-width="0.8"/>
<line x1="448.45" y1="120.03" x2="450.45" y2="120.03" stroke="#888" stroke-width="0.8"/>
<line x1="448.45" y1="130.95" x2="450.45" y2="130.95" stroke="#888" stroke-width="0.8"/>
<line x1="464.75" y1="124.18" x2="464.75" y2="128.55" stroke="#888" stroke-width="0.8"/>
<line x1="463.75" y1="124.18" x2="465.75" y2="124.18" stroke="#888" stroke-width="0.8"/>
<line x1="463.75" y1="128.55" x2="465.75" y2="128.55" stroke="#888" stroke-width="0.8"/>
<line x1="480.05" y1="122.65" x2="480.05" y2="129.21" stroke="#888" stroke-width="0.8"/>
<line x1="479.05" y1="122.65" x2="481.05" y2="122.65" stroke="#888" stroke-width="0.8"/>
<line x1="479.05" y1="129.21" x2="481.05" y2="129.21" stroke="#888" stroke-width="0.8"/>
<line x1="495.35" y1="123.09" x2="495.35" y2="129.64" stroke="#888" stroke-width="0.8"/>
<line x1="494.35" y1="123.09" x2="496.35" y2="123.09" stroke="#888" stroke-width="0.8"/>
<line x1="494.35" y1="129.64" x2="496.35" y2="129.64" stroke="#888" stroke-width="0.8"/>
<line x1="510.65" y1="124.18" x2="510.65" y2="128.55" stroke="#888" stroke-width="0.8"/>
<line x1="509.65" y1="124.18" x2="511.65" y2="124.18" stroke="#888" stroke-width="0.8"/>
<line x1="509.65" y1="128.55" x2="511.65" y2="128.55" stroke="#888" stroke-width="0.8"/>
<line x1="357.65" y1="34.16" x2="357.65" y2="56.01" stroke="#888" stroke-width="0.8"/>
<line x1="356.65" y1="34.16" x2="358.65" y2="34.16" stroke="#888" stroke-width="0.8"/>
<line x1="356.65" y1="56.01" x2="358.65" y2="56.01" stroke="#888" stroke-width="0.8"/>
<line x1="372.95" y1="43.77" x2="372.95" y2="65.62" stroke="#888" stroke-width="0.8"/>
<line x1="371.95" y1="43.77" x2="373.95" y2="43.77" stroke="#888" stroke-width="0.8"/>
<line x1="371.95" y1="65.62" x2="373.95" y2="65.62" stroke="#888" stroke-width="0.8"/>
<line x1="388.25" y1="44.21" x2="388.25" y2="74.8" stroke="#888" stroke-width="0.8"/>
<line x1="387.25" y1="44.21" x2="389.25" y2="44.21" stroke="#888" stroke-width="0.8"/>
<line x1="387.25" y1="74.8" x2="389.25" y2="74.8" stroke="#888" stroke-width="0.8"/>
<line x1="403.55" y1="70.21" x2="403.55" y2="72.4" stroke="#888" stroke-width="0.8"/>
<line x1="402.55" y1="70.21" x2="404.55" y2="70.21" stroke="#888" stroke-width="0.8"/>
<line x1="402.55" y1="72.4" x2="404.55" y2="72.4" stroke="#888" stroke-width="0.8"/>
<line x1="418.85" y1="74.14" x2="418.85" y2="85.07" stroke="#888" stroke-width="0.8"/>
<line x1="417.85" y1="74.14" x2="419.85" y2="74.14" stroke="#888" stroke-width="0.8"/>
<line x1="417.85" y1="85.07" x2="419.85" y2="85.07" stroke="#888" stroke-width="0.8"/>
<line x1="434.15" y1="90.31" x2="434.15" y2="99.05" stroke="#888" stroke-width="0.8"/>
<line x1="433.15" y1="90.31" x2="435.15" y2="90.31" stroke="#888" stroke-width="0.8"/>
<line x1="433.15" y1="99.05" x2="435.15" y2="99.05" stroke="#888" stroke-width="0.8"/>
<line x1="449.45" y1="103.86" x2="449.45" y2="106.04" stroke="#888" stroke-width="0.8"/>
<line x1="448.45" y1="103.86" x2="450.45" y2="103.86" stroke="#888" stroke-width="0.8"/>
<line x1="448.45" y1="106.04" x2="450.45" y2="106.04" stroke="#888" stroke-width="0.8"/>
<line x1="464.75" y1="109.32" x2="464.75" y2="118.06" stroke="#888" stroke-width="0.8"/>
<line x1="463.75" y1="109.32" x2="465.75" y2="109.32" stroke="#888" stroke-width="0.8"/>
<line x1="463.75" y1="118.06" x2="465.75" y2="118.06" stroke="#888" stroke-width="0.8"/>
<line x1="480.05" y1="112.82" x2="480.05" y2="121.56" stroke="#888" stroke-width="0.8"/>
<line x1="479.05" y1="112.82" x2="481.05" y2="112.82" stroke="#888" stroke-width="0.8"/>
<line x1="479.05" y1="121.56" x2="481.05" y2="121.56" stroke="#888" stroke-width="0.8"/>
<line x1="495.35" y1="116.1" x2="495.35" y2="122.65" stroke="#888" stroke-width="0.8"/>
<line x1="494.35" y1="116.1" x2="496.35" y2="116.1" stroke="#888" stroke-width="0.8"/>
<line x1="494.35" y1="122.65" x2="496.35" y2="122.65" stroke="#888" stroke-width="0.8"/>
<line x1="510.65" y1="116.75" x2="510.65" y2="125.49" stroke="#888" stroke-width="0.8"/>
<line x1="509.65" y1="116.75" x2="511.65" y2="116.75" stroke="#888" stroke-width="0.8"/>
<line x1="509.65" y1="125.49" x2="511.65" y2="125.49" stroke="#888" stroke-width="0.8"/>
<path d="M342.35 128.55L357.65 147.56L372.95 147.56L388.25 147.34L403.55 147.56L418.85 147.56L434.15 147.56L449.45 147.78L464.75 147.56L480.05 147.56L495.35 147.78L510.65 147.56" fill="none" stroke="#000" stroke-width="1.2" stroke-linejoin="round"/>
<path d="M342.35 128.55L357.65 125.93L372.95 124.18L388.25 124.18L403.55 125.71L418.85 125.71L434.15 124.18L449.45 125.71L464.75 125.93L480.05 125.27L495.35 124.62L510.65 125.27" fill="none" stroke="#000" stroke-width="1.2" stroke-linejoin="round"/>
<path d="M342.35 128.55L357.65 125.93L372.95 125.93L388.25 125.49L403.55 125.71L418.85 126.37L434.15 127.89L449.45 125.49L464.75 126.37L480.05 125.93L495.35 126.37L510.65 126.37" fill="none" stroke="#000" stroke-width="1.2" stroke-linejoin="round"/>
<path d="M342.35 128.55L357.65 45.08L372.95 54.7L388.25 59.5L403.55 71.3L418.85 79.61L434.15 94.68L449.45 104.95L464.75 113.69L480.05 117.19L495.35 119.37L510.65 121.12" fill="none" stroke="#000" stroke-width="1.2" stroke-linejoin="round"/>
<circle cx="342.35" cy="128.55" r="1.9" fill="#fff" stroke="#000" stroke-width="0.8"/>
<circle cx="357.65" cy="147.56" r="1.9" fill="#fff" stroke="#000" stroke-width="0.8"/>
<circle cx="372.95" cy="147.56" r="1.9" fill="#fff" stroke="#000" stroke-width="0.8"/>
<circle cx="388.25" cy="147.34" r="1.9" fill="#fff" stroke="#000" stroke-width="0.8"/>
<circle cx="403.55" cy="147.56" r="1.9" fill="#fff" stroke="#000" stroke-width="0.8"/>
<circle cx="418.85" cy="147.56" r="1.9" fill="#fff" stroke="#000" stroke-width="0.8"/>
<circle cx="434.15" cy="147.56" r="1.9" fill="#fff" stroke="#000" stroke-width="0.8"/>
<circle cx="449.45" cy="147.78" r="1.9" fill="#fff" stroke="#000" stroke-width="0.8"/>
<circle cx="464.75" cy="147.56" r="1.9" fill="#fff" stroke="#000" stroke-width="0.8"/>
<circle cx="480.05" cy="147.56" r="1.9" fill="#fff" stroke="#000" stroke-width="0.8"/>
<circle cx="495.35" cy="147.78" r="1.9" fill="#fff" stroke="#000" stroke-width="0.8"/>
<circle cx="510.65" cy="147.56" r="1.9" fill="#fff" stroke="#000" stroke-width="0.8"/>
<path d="M342.35 126.25L344.65 128.55L342.35 130.85L340.05 128.55Z" fill="#fff" stroke="#000" stroke-width="0.8"/>
<path d="M357.65 123.63L359.95 125.93L357.65 128.23L355.35 125.93Z" fill="#fff" stroke="#000" stroke-width="0.8"/>
<path d="M372.95 121.88L375.25 124.18L372.95 126.48L370.65 124.18Z" fill="#fff" stroke="#000" stroke-width="0.8"/>
<path d="M388.25 121.88L390.55 124.18L388.25 126.48L385.95 124.18Z" fill="#fff" stroke="#000" stroke-width="0.8"/>
<path d="M403.55 123.41L405.85 125.71L403.55 128.01L401.25 125.71Z" fill="#fff" stroke="#000" stroke-width="0.8"/>
<path d="M418.85 123.41L421.15 125.71L418.85 128.01L416.55 125.71Z" fill="#fff" stroke="#000" stroke-width="0.8"/>
<path d="M434.15 121.88L436.45 124.18L434.15 126.48L431.85 124.18Z" fill="#fff" stroke="#000" stroke-width="0.8"/>
<path d="M449.45 123.41L451.75 125.71L449.45 128.01L447.15 125.71Z" fill="#fff" stroke="#000" stroke-width="0.8"/>
<path d="M464.75 123.63L467.05 125.93L464.75 128.23L462.45 125.93Z" fill="#fff" stroke="#000" stroke-width="0.8"/>
<path d="M480.05 122.97L482.35 125.27L480.05 127.57L477.75 125.27Z" fill="#fff" stroke="#000" stroke-width="0.8"/>
<path d="M495.35 122.32L497.65 124.62L495.35 126.92L493.05 124.62Z" fill="#fff" stroke="#000" stroke-width="0.8"/>
<path d="M510.65 122.97L512.95 125.27L510.65 127.57L508.35 125.27Z" fill="#fff" stroke="#000" stroke-width="0.8"/>
<path d="M342.35 126.15L344.75 130.35L339.95 130.35Z" fill="#000"/>
<path d="M357.65 123.53L360.05 127.73L355.25 127.73Z" fill="#000"/>
<path d="M372.95 123.53L375.35 127.73L370.55 127.73Z" fill="#000"/>
<path d="M388.25 123.09L390.65 127.29L385.85 127.29Z" fill="#000"/>
<path d="M403.55 123.31L405.95 127.51L401.15 127.51Z" fill="#000"/>
<path d="M418.85 123.97L421.25 128.17L416.45 128.17Z" fill="#000"/>
<path d="M434.15 125.49L436.55 129.69L431.75 129.69Z" fill="#000"/>
<path d="M449.45 123.09L451.85 127.29L447.05 127.29Z" fill="#000"/>
<path d="M464.75 123.97L467.15 128.17L462.35 128.17Z" fill="#000"/>
<path d="M480.05 123.53L482.45 127.73L477.65 127.73Z" fill="#000"/>
<path d="M495.35 123.97L497.75 128.17L492.95 128.17Z" fill="#000"/>
<path d="M510.65 123.97L513.05 128.17L508.25 128.17Z" fill="#000"/>
<rect x="340.55" y="126.75" width="3.6" height="3.6" fill="#000"/>
<rect x="355.85" y="43.28" width="3.6" height="3.6" fill="#000"/>
<rect x="371.15" y="52.9" width="3.6" height="3.6" fill="#000"/>
<rect x="386.45" y="57.7" width="3.6" height="3.6" fill="#000"/>
<rect x="401.75" y="69.5" width="3.6" height="3.6" fill="#000"/>
<rect x="417.05" y="77.81" width="3.6" height="3.6" fill="#000"/>
<rect x="432.35" y="92.88" width="3.6" height="3.6" fill="#000"/>
<rect x="447.65" y="103.15" width="3.6" height="3.6" fill="#000"/>
<rect x="462.95" y="111.89" width="3.6" height="3.6" fill="#000"/>
<rect x="478.25" y="115.39" width="3.6" height="3.6" fill="#000"/>
<rect x="493.55" y="117.57" width="3.6" height="3.6" fill="#000"/>
<rect x="508.85" y="119.32" width="3.6" height="3.6" fill="#000"/>
<circle cx="342.35" cy="128.55" r="2.4" fill="#000"/>
<text x="377.5" y="41.9" font-size="6.9" font-weight="bold" text-anchor="start">VEGF</text>
<text x="378" y="115.6" font-size="6.9" font-weight="bold" text-anchor="start">ALK5</text>
<text x="404.6" y="115.6" font-size="6.9" font-weight="bold" text-anchor="start">MGP</text>
<text x="377.7" y="140.2" font-size="6.9" font-weight="bold" text-anchor="start">ALK1</text>
<line x1="89.8" y1="193.3" x2="89.8" y2="348.8" stroke="#111" stroke-width="1.4"/>
<line x1="105.1" y1="193.3" x2="105.1" y2="348.8" stroke="#888" stroke-width="1.2"/>
<line x1="59.2" y1="193.3" x2="59.2" y2="348.8" stroke="#333" stroke-width="1.0"/>
<line x1="57" y1="325.5" x2="59.2" y2="325.5" stroke="#111" stroke-width="0.9"/>
<text x="53.6" y="327.8" font-size="6.5" font-weight="bold" text-anchor="end">0</text>
<line x1="57" y1="303.55" x2="59.2" y2="303.55" stroke="#111" stroke-width="0.9"/>
<text x="53.6" y="305.85" font-size="6.5" font-weight="bold" text-anchor="end">1</text>
<line x1="57" y1="281.6" x2="59.2" y2="281.6" stroke="#111" stroke-width="0.9"/>
<text x="53.6" y="283.9" font-size="6.5" font-weight="bold" text-anchor="end">2</text>
<line x1="57" y1="259.65" x2="59.2" y2="259.65" stroke="#111" stroke-width="0.9"/>
<text x="53.6" y="261.95" font-size="6.5" font-weight="bold" text-anchor="end">3</text>
<line x1="57" y1="237.7" x2="59.2" y2="237.7" stroke="#111" stroke-width="0.9"/>
<text x="53.6" y="240" font-size="6.5" font-weight="bold" text-anchor="end">4</text>
<line x1="57" y1="215.75" x2="59.2" y2="215.75" stroke="#111" stroke-width="0.9"/>
<text x="53.6" y="218.05" font-size="6.5" font-weight="bold" text-anchor="end">5</text>
<line x1="57" y1="193.8" x2="59.2" y2="193.8" stroke="#111" stroke-width="0.9"/>
<text x="53.6" y="196.1" font-size="6.5" font-weight="bold" text-anchor="end">6</text>
<text x="0" y="0" font-size="7.4" font-weight="bold" text-anchor="middle" transform="translate(45.4 258.75) rotate(-90) scale(1.14 1)">Relative RNA Expression (fold)</text>
<line x1="58.7" y1="325.4" x2="258.1" y2="325.4" stroke="#222" stroke-width="1.0"/>
<line x1="59.2" y1="339.1" x2="258.1" y2="339.1" stroke="#555" stroke-width="1.0"/>
<line x1="59.2" y1="348.8" x2="258.1" y2="348.8" stroke="#555" stroke-width="1.0"/>
<line x1="74.5" y1="325.4" x2="74.5" y2="348.8" stroke="#666" stroke-width="1.0"/>
<line x1="89.8" y1="325.4" x2="89.8" y2="348.8" stroke="#666" stroke-width="1.0"/>
<line x1="105.1" y1="325.4" x2="105.1" y2="348.8" stroke="#666" stroke-width="1.0"/>
<line x1="120.4" y1="325.4" x2="120.4" y2="348.8" stroke="#666" stroke-width="1.0"/>
<line x1="135.7" y1="325.4" x2="135.7" y2="348.8" stroke="#666" stroke-width="1.0"/>
<line x1="151" y1="325.4" x2="151" y2="348.8" stroke="#666" stroke-width="1.0"/>
<line x1="166.3" y1="325.4" x2="166.3" y2="348.8" stroke="#666" stroke-width="1.0"/>
<line x1="181.6" y1="325.4" x2="181.6" y2="348.8" stroke="#666" stroke-width="1.0"/>
<line x1="196.9" y1="325.4" x2="196.9" y2="348.8" stroke="#666" stroke-width="1.0"/>
<line x1="212.2" y1="325.4" x2="212.2" y2="348.8" stroke="#666" stroke-width="1.0"/>
<line x1="227.5" y1="325.4" x2="227.5" y2="348.8" stroke="#666" stroke-width="1.0"/>
<line x1="242.8" y1="325.4" x2="242.8" y2="348.8" stroke="#666" stroke-width="1.0"/>
<line x1="258.1" y1="325.4" x2="258.1" y2="348.8" stroke="#666" stroke-width="1.0"/>
<text x="81.75" y="336.7" font-size="7.0" font-weight="bold" text-anchor="middle">-12S</text>
<text transform="translate(97.45 336.7) scale(0.95 1)" font-size="6.8" font-weight="bold" text-anchor="middle">0</text>
<text transform="translate(112.75 336.7) scale(0.95 1)" font-size="6.8" font-weight="bold" text-anchor="middle">0</text>
<text transform="translate(128.05 336.7) scale(0.95 1)" font-size="6.8" font-weight="bold" text-anchor="middle">2</text>
<text transform="translate(143.35 336.7) scale(0.95 1)" font-size="6.8" font-weight="bold" text-anchor="middle">4</text>
<text transform="translate(158.65 336.7) scale(0.95 1)" font-size="6.8" font-weight="bold" text-anchor="middle">6</text>
<text transform="translate(173.95 336.7) scale(0.95 1)" font-size="6.8" font-weight="bold" text-anchor="middle">8</text>
<text transform="translate(189.25 336.7) scale(0.95 1)" font-size="6.8" font-weight="bold" text-anchor="middle">10</text>
<text transform="translate(204.55 336.7) scale(0.95 1)" font-size="6.8" font-weight="bold" text-anchor="middle">12</text>
<text transform="translate(219.85 336.7) scale(0.95 1)" font-size="6.8" font-weight="bold" text-anchor="middle">16</text>
<text transform="translate(235.15 336.7) scale(0.95 1)" font-size="6.8" font-weight="bold" text-anchor="middle">20</text>
<text transform="translate(250.45 336.7) scale(0.95 1)" font-size="6.8" font-weight="bold" text-anchor="middle">24</text>
<text x="57.4" y="336.7" font-size="7.2" font-weight="bold" text-anchor="end">Time (hrs)</text>
<text x="81.75" y="346.4" font-size="7.0" font-weight="bold" text-anchor="middle">40S</text>
<text transform="translate(97.45 346.4) scale(0.95 1)" font-size="6.8" font-weight="bold" text-anchor="middle">0</text>
<text transform="translate(112.75 346.4) scale(0.95 1)" font-size="6.8" font-weight="bold" text-anchor="middle">0</text>
<text transform="translate(128.05 346.4) scale(0.95 1)" font-size="6.8" font-weight="bold" text-anchor="middle">0</text>
<text transform="translate(143.35 346.4) scale(0.95 1)" font-size="6.8" font-weight="bold" text-anchor="middle">0</text>
<text transform="translate(158.65 346.4) scale(0.95 1)" font-size="6.8" font-weight="bold" text-anchor="middle">0</text>
<text transform="translate(173.95 346.4) scale(0.95 1)" font-size="6.8" font-weight="bold" text-anchor="middle">0</text>
<text transform="translate(189.25 346.4) scale(0.95 1)" font-size="6.8" font-weight="bold" text-anchor="middle">0</text>
<text transform="translate(204.55 346.4) scale(0.95 1)" font-size="6.8" font-weight="bold" text-anchor="middle">0</text>
<text transform="translate(219.85 346.4) scale(0.95 1)" font-size="6.8" font-weight="bold" text-anchor="middle">0</text>
<text transform="translate(235.15 346.4) scale(0.95 1)" font-size="6.8" font-weight="bold" text-anchor="middle">0</text>
<text transform="translate(250.45 346.4) scale(0.95 1)" font-size="6.8" font-weight="bold" text-anchor="middle">0</text>
<text x="57.4" y="346.4" font-size="7.2" font-weight="bold" text-anchor="end">BMP-4 (ng/mL)</text>
<text x="56.6" y="354.8" font-size="7.1" font-weight="bold" text-anchor="end">+ ALK1/Fc</text>
<text x="200.6" y="201.3" font-size="10" font-weight="normal" text-anchor="start">BMP-4</text>
<line x1="97.45" y1="204.99" x2="97.45" y2="222.55" stroke="#888" stroke-width="0.8"/>
<line x1="96.45" y1="204.99" x2="98.45" y2="204.99" stroke="#888" stroke-width="0.8"/>
<line x1="96.45" y1="222.55" x2="98.45" y2="222.55" stroke="#888" stroke-width="0.8"/>
<line x1="112.75" y1="207.85" x2="112.75" y2="229.8" stroke="#888" stroke-width="0.8"/>
<line x1="111.75" y1="207.85" x2="113.75" y2="207.85" stroke="#888" stroke-width="0.8"/>
<line x1="111.75" y1="229.8" x2="113.75" y2="229.8" stroke="#888" stroke-width="0.8"/>
<line x1="128.05" y1="235.07" x2="128.05" y2="243.85" stroke="#888" stroke-width="0.8"/>
<line x1="127.05" y1="235.07" x2="129.05" y2="235.07" stroke="#888" stroke-width="0.8"/>
<line x1="127.05" y1="243.85" x2="129.05" y2="243.85" stroke="#888" stroke-width="0.8"/>
<line x1="143.35" y1="258.99" x2="143.35" y2="272.16" stroke="#888" stroke-width="0.8"/>
<line x1="142.35" y1="258.99" x2="144.35" y2="258.99" stroke="#888" stroke-width="0.8"/>
<line x1="142.35" y1="272.16" x2="144.35" y2="272.16" stroke="#888" stroke-width="0.8"/>
<line x1="158.65" y1="270.84" x2="158.65" y2="281.82" stroke="#888" stroke-width="0.8"/>
<line x1="157.65" y1="270.84" x2="159.65" y2="270.84" stroke="#888" stroke-width="0.8"/>
<line x1="157.65" y1="281.82" x2="159.65" y2="281.82" stroke="#888" stroke-width="0.8"/>
<line x1="173.95" y1="278.09" x2="173.95" y2="291.26" stroke="#888" stroke-width="0.8"/>
<line x1="172.95" y1="278.09" x2="174.95" y2="278.09" stroke="#888" stroke-width="0.8"/>
<line x1="172.95" y1="291.26" x2="174.95" y2="291.26" stroke="#888" stroke-width="0.8"/>
<line x1="189.25" y1="289.28" x2="189.25" y2="298.06" stroke="#888" stroke-width="0.8"/>
<line x1="188.25" y1="289.28" x2="190.25" y2="289.28" stroke="#888" stroke-width="0.8"/>
<line x1="188.25" y1="298.06" x2="190.25" y2="298.06" stroke="#888" stroke-width="0.8"/>
<line x1="204.55" y1="292.57" x2="204.55" y2="299.16" stroke="#888" stroke-width="0.8"/>
<line x1="203.55" y1="292.57" x2="205.55" y2="292.57" stroke="#888" stroke-width="0.8"/>
<line x1="203.55" y1="299.16" x2="205.55" y2="299.16" stroke="#888" stroke-width="0.8"/>
<line x1="219.85" y1="297.62" x2="219.85" y2="302.01" stroke="#888" stroke-width="0.8"/>
<line x1="218.85" y1="297.62" x2="220.85" y2="297.62" stroke="#888" stroke-width="0.8"/>
<line x1="218.85" y1="302.01" x2="220.85" y2="302.01" stroke="#888" stroke-width="0.8"/>
<line x1="235.15" y1="298.72" x2="235.15" y2="303.11" stroke="#888" stroke-width="0.8"/>
<line x1="234.15" y1="298.72" x2="236.15" y2="298.72" stroke="#888" stroke-width="0.8"/>
<line x1="234.15" y1="303.11" x2="236.15" y2="303.11" stroke="#888" stroke-width="0.8"/>
<line x1="250.45" y1="299.16" x2="250.45" y2="303.55" stroke="#888" stroke-width="0.8"/>
<line x1="249.45" y1="299.16" x2="251.45" y2="299.16" stroke="#888" stroke-width="0.8"/>
<line x1="249.45" y1="303.55" x2="251.45" y2="303.55" stroke="#888" stroke-width="0.8"/>
<line x1="97.45" y1="302.01" x2="97.45" y2="304.21" stroke="#888" stroke-width="0.8"/>
<line x1="96.45" y1="302.01" x2="98.45" y2="302.01" stroke="#888" stroke-width="0.8"/>
<line x1="96.45" y1="304.21" x2="98.45" y2="304.21" stroke="#888" stroke-width="0.8"/>
<line x1="112.75" y1="301.14" x2="112.75" y2="303.33" stroke="#888" stroke-width="0.8"/>
<line x1="111.75" y1="301.14" x2="113.75" y2="301.14" stroke="#888" stroke-width="0.8"/>
<line x1="111.75" y1="303.33" x2="113.75" y2="303.33" stroke="#888" stroke-width="0.8"/>
<line x1="128.05" y1="299.6" x2="128.05" y2="303.99" stroke="#888" stroke-width="0.8"/>
<line x1="127.05" y1="299.6" x2="129.05" y2="299.6" stroke="#888" stroke-width="0.8"/>
<line x1="127.05" y1="303.99" x2="129.05" y2="303.99" stroke="#888" stroke-width="0.8"/>
<line x1="143.35" y1="296.75" x2="143.35" y2="301.14" stroke="#888" stroke-width="0.8"/>
<line x1="142.35" y1="296.75" x2="144.35" y2="296.75" stroke="#888" stroke-width="0.8"/>
<line x1="142.35" y1="301.14" x2="144.35" y2="301.14" stroke="#888" stroke-width="0.8"/>
<line x1="158.65" y1="291.04" x2="158.65" y2="295.43" stroke="#888" stroke-width="0.8"/>
<line x1="157.65" y1="291.04" x2="159.65" y2="291.04" stroke="#888" stroke-width="0.8"/>
<line x1="157.65" y1="295.43" x2="159.65" y2="295.43" stroke="#888" stroke-width="0.8"/>
<line x1="173.95" y1="279.19" x2="173.95" y2="290.16" stroke="#888" stroke-width="0.8"/>
<line x1="172.95" y1="279.19" x2="174.95" y2="279.19" stroke="#888" stroke-width="0.8"/>
<line x1="172.95" y1="290.16" x2="174.95" y2="290.16" stroke="#888" stroke-width="0.8"/>
<line x1="189.25" y1="290.6" x2="189.25" y2="294.99" stroke="#888" stroke-width="0.8"/>
<line x1="188.25" y1="290.6" x2="190.25" y2="290.6" stroke="#888" stroke-width="0.8"/>
<line x1="188.25" y1="294.99" x2="190.25" y2="294.99" stroke="#888" stroke-width="0.8"/>
<line x1="204.55" y1="293.67" x2="204.55" y2="298.06" stroke="#888" stroke-width="0.8"/>
<line x1="203.55" y1="293.67" x2="205.55" y2="293.67" stroke="#888" stroke-width="0.8"/>
<line x1="203.55" y1="298.06" x2="205.55" y2="298.06" stroke="#888" stroke-width="0.8"/>
<line x1="219.85" y1="297.62" x2="219.85" y2="302.01" stroke="#888" stroke-width="0.8"/>
<line x1="218.85" y1="297.62" x2="220.85" y2="297.62" stroke="#888" stroke-width="0.8"/>
<line x1="218.85" y1="302.01" x2="220.85" y2="302.01" stroke="#888" stroke-width="0.8"/>
<line x1="235.15" y1="300.26" x2="235.15" y2="302.45" stroke="#888" stroke-width="0.8"/>
<line x1="234.15" y1="300.26" x2="236.15" y2="300.26" stroke="#888" stroke-width="0.8"/>
<line x1="234.15" y1="302.45" x2="236.15" y2="302.45" stroke="#888" stroke-width="0.8"/>
<line x1="250.45" y1="300.7" x2="250.45" y2="302.89" stroke="#888" stroke-width="0.8"/>
<line x1="249.45" y1="300.7" x2="251.45" y2="300.7" stroke="#888" stroke-width="0.8"/>
<line x1="249.45" y1="302.89" x2="251.45" y2="302.89" stroke="#888" stroke-width="0.8"/>
<line x1="97.45" y1="250.21" x2="97.45" y2="254.6" stroke="#888" stroke-width="0.8"/>
<line x1="96.45" y1="250.21" x2="98.45" y2="250.21" stroke="#888" stroke-width="0.8"/>
<line x1="96.45" y1="254.6" x2="98.45" y2="254.6" stroke="#888" stroke-width="0.8"/>
<line x1="112.75" y1="254.6" x2="112.75" y2="258.99" stroke="#888" stroke-width="0.8"/>
<line x1="111.75" y1="254.6" x2="113.75" y2="254.6" stroke="#888" stroke-width="0.8"/>
<line x1="111.75" y1="258.99" x2="113.75" y2="258.99" stroke="#888" stroke-width="0.8"/>
<line x1="128.05" y1="269.53" x2="128.05" y2="282.7" stroke="#888" stroke-width="0.8"/>
<line x1="127.05" y1="269.53" x2="129.05" y2="269.53" stroke="#888" stroke-width="0.8"/>
<line x1="127.05" y1="282.7" x2="129.05" y2="282.7" stroke="#888" stroke-width="0.8"/>
<line x1="143.35" y1="274.36" x2="143.35" y2="285.33" stroke="#888" stroke-width="0.8"/>
<line x1="142.35" y1="274.36" x2="144.35" y2="274.36" stroke="#888" stroke-width="0.8"/>
<line x1="142.35" y1="285.33" x2="144.35" y2="285.33" stroke="#888" stroke-width="0.8"/>
<line x1="158.65" y1="288.84" x2="158.65" y2="297.62" stroke="#888" stroke-width="0.8"/>
<line x1="157.65" y1="288.84" x2="159.65" y2="288.84" stroke="#888" stroke-width="0.8"/>
<line x1="157.65" y1="297.62" x2="159.65" y2="297.62" stroke="#888" stroke-width="0.8"/>
<line x1="173.95" y1="293.67" x2="173.95" y2="298.06" stroke="#888" stroke-width="0.8"/>
<line x1="172.95" y1="293.67" x2="174.95" y2="293.67" stroke="#888" stroke-width="0.8"/>
<line x1="172.95" y1="298.06" x2="174.95" y2="298.06" stroke="#888" stroke-width="0.8"/>
<line x1="189.25" y1="295.21" x2="189.25" y2="299.6" stroke="#888" stroke-width="0.8"/>
<line x1="188.25" y1="295.21" x2="190.25" y2="295.21" stroke="#888" stroke-width="0.8"/>
<line x1="188.25" y1="299.6" x2="190.25" y2="299.6" stroke="#888" stroke-width="0.8"/>
<line x1="204.55" y1="296.53" x2="204.55" y2="300.92" stroke="#888" stroke-width="0.8"/>
<line x1="203.55" y1="296.53" x2="205.55" y2="296.53" stroke="#888" stroke-width="0.8"/>
<line x1="203.55" y1="300.92" x2="205.55" y2="300.92" stroke="#888" stroke-width="0.8"/>
<line x1="219.85" y1="300.04" x2="219.85" y2="304.43" stroke="#888" stroke-width="0.8"/>
<line x1="218.85" y1="300.04" x2="220.85" y2="300.04" stroke="#888" stroke-width="0.8"/>
<line x1="218.85" y1="304.43" x2="220.85" y2="304.43" stroke="#888" stroke-width="0.8"/>
<line x1="235.15" y1="300.7" x2="235.15" y2="305.09" stroke="#888" stroke-width="0.8"/>
<line x1="234.15" y1="300.7" x2="236.15" y2="300.7" stroke="#888" stroke-width="0.8"/>
<line x1="234.15" y1="305.09" x2="236.15" y2="305.09" stroke="#888" stroke-width="0.8"/>
<line x1="250.45" y1="300.04" x2="250.45" y2="304.43" stroke="#888" stroke-width="0.8"/>
<line x1="249.45" y1="300.04" x2="251.45" y2="300.04" stroke="#888" stroke-width="0.8"/>
<line x1="249.45" y1="304.43" x2="251.45" y2="304.43" stroke="#888" stroke-width="0.8"/>
<line x1="97.45" y1="301.36" x2="97.45" y2="303.55" stroke="#888" stroke-width="0.8"/>
<line x1="96.45" y1="301.36" x2="98.45" y2="301.36" stroke="#888" stroke-width="0.8"/>
<line x1="96.45" y1="303.55" x2="98.45" y2="303.55" stroke="#888" stroke-width="0.8"/>
<line x1="112.75" y1="299.16" x2="112.75" y2="303.55" stroke="#888" stroke-width="0.8"/>
<line x1="111.75" y1="299.16" x2="113.75" y2="299.16" stroke="#888" stroke-width="0.8"/>
<line x1="111.75" y1="303.55" x2="113.75" y2="303.55" stroke="#888" stroke-width="0.8"/>
<line x1="128.05" y1="299.16" x2="128.05" y2="303.55" stroke="#888" stroke-width="0.8"/>
<line x1="127.05" y1="299.16" x2="129.05" y2="299.16" stroke="#888" stroke-width="0.8"/>
<line x1="127.05" y1="303.55" x2="129.05" y2="303.55" stroke="#888" stroke-width="0.8"/>
<line x1="143.35" y1="296.96" x2="143.35" y2="301.36" stroke="#888" stroke-width="0.8"/>
<line x1="142.35" y1="296.96" x2="144.35" y2="296.96" stroke="#888" stroke-width="0.8"/>
<line x1="142.35" y1="301.36" x2="144.35" y2="301.36" stroke="#888" stroke-width="0.8"/>
<line x1="158.65" y1="296.96" x2="158.65" y2="301.36" stroke="#888" stroke-width="0.8"/>
<line x1="157.65" y1="296.96" x2="159.65" y2="296.96" stroke="#888" stroke-width="0.8"/>
<line x1="157.65" y1="301.36" x2="159.65" y2="301.36" stroke="#888" stroke-width="0.8"/>
<line x1="173.95" y1="293.67" x2="173.95" y2="298.06" stroke="#888" stroke-width="0.8"/>
<line x1="172.95" y1="293.67" x2="174.95" y2="293.67" stroke="#888" stroke-width="0.8"/>
<line x1="172.95" y1="298.06" x2="174.95" y2="298.06" stroke="#888" stroke-width="0.8"/>
<line x1="189.25" y1="282.92" x2="189.25" y2="287.31" stroke="#888" stroke-width="0.8"/>
<line x1="188.25" y1="282.92" x2="190.25" y2="282.92" stroke="#888" stroke-width="0.8"/>
<line x1="188.25" y1="287.31" x2="190.25" y2="287.31" stroke="#888" stroke-width="0.8"/>
<line x1="204.55" y1="287.97" x2="204.55" y2="294.55" stroke="#888" stroke-width="0.8"/>
<line x1="203.55" y1="287.97" x2="205.55" y2="287.97" stroke="#888" stroke-width="0.8"/>
<line x1="203.55" y1="294.55" x2="205.55" y2="294.55" stroke="#888" stroke-width="0.8"/>
<line x1="219.85" y1="293.67" x2="219.85" y2="298.06" stroke="#888" stroke-width="0.8"/>
<line x1="218.85" y1="293.67" x2="220.85" y2="293.67" stroke="#888" stroke-width="0.8"/>
<line x1="218.85" y1="298.06" x2="220.85" y2="298.06" stroke="#888" stroke-width="0.8"/>
<line x1="235.15" y1="298.06" x2="235.15" y2="302.45" stroke="#888" stroke-width="0.8"/>
<line x1="234.15" y1="298.06" x2="236.15" y2="298.06" stroke="#888" stroke-width="0.8"/>
<line x1="234.15" y1="302.45" x2="236.15" y2="302.45" stroke="#888" stroke-width="0.8"/>
<line x1="250.45" y1="299.82" x2="250.45" y2="302.01" stroke="#888" stroke-width="0.8"/>
<line x1="249.45" y1="299.82" x2="251.45" y2="299.82" stroke="#888" stroke-width="0.8"/>
<line x1="249.45" y1="302.01" x2="251.45" y2="302.01" stroke="#888" stroke-width="0.8"/>
<path d="M82.15 303.55L97.45 213.77L112.75 218.82L128.05 239.46L143.35 265.58L158.65 276.33L173.95 284.67L189.25 293.67L204.55 295.87L219.85 299.82L235.15 300.92L250.45 301.36" fill="none" stroke="#000" stroke-width="1.2" stroke-linejoin="round"/>
<path d="M82.15 303.55L97.45 303.11L112.75 302.23L128.05 301.79L143.35 298.94L158.65 293.23L173.95 284.67L189.25 292.79L204.55 295.87L219.85 299.82L235.15 301.36L250.45 301.79" fill="none" stroke="#000" stroke-width="1.2" stroke-linejoin="round"/>
<path d="M82.15 303.55L97.45 252.41L112.75 256.8L128.05 276.11L143.35 279.84L158.65 293.23L173.95 295.87L189.25 297.4L204.55 298.72L219.85 302.23L235.15 302.89L250.45 302.23" fill="none" stroke="#000" stroke-width="1.2" stroke-linejoin="round"/>
<path d="M82.15 303.55L97.45 302.45L112.75 301.36L128.05 301.36L143.35 299.16L158.65 299.16L173.95 295.87L189.25 285.11L204.55 291.26L219.85 295.87L235.15 300.26L250.45 300.92" fill="none" stroke="#000" stroke-width="1.2" stroke-linejoin="round"/>
<circle cx="82.15" cy="303.55" r="1.9" fill="#fff" stroke="#000" stroke-width="0.8"/>
<circle cx="97.45" cy="213.77" r="1.9" fill="#fff" stroke="#000" stroke-width="0.8"/>
<circle cx="112.75" cy="218.82" r="1.9" fill="#fff" stroke="#000" stroke-width="0.8"/>
<circle cx="128.05" cy="239.46" r="1.9" fill="#fff" stroke="#000" stroke-width="0.8"/>
<circle cx="143.35" cy="265.58" r="1.9" fill="#fff" stroke="#000" stroke-width="0.8"/>
<circle cx="158.65" cy="276.33" r="1.9" fill="#fff" stroke="#000" stroke-width="0.8"/>
<circle cx="173.95" cy="284.67" r="1.9" fill="#fff" stroke="#000" stroke-width="0.8"/>
<circle cx="189.25" cy="293.67" r="1.9" fill="#fff" stroke="#000" stroke-width="0.8"/>
<circle cx="204.55" cy="295.87" r="1.9" fill="#fff" stroke="#000" stroke-width="0.8"/>
<circle cx="219.85" cy="299.82" r="1.9" fill="#fff" stroke="#000" stroke-width="0.8"/>
<circle cx="235.15" cy="300.92" r="1.9" fill="#fff" stroke="#000" stroke-width="0.8"/>
<circle cx="250.45" cy="301.36" r="1.9" fill="#fff" stroke="#000" stroke-width="0.8"/>
<path d="M82.15 301.25L84.45 303.55L82.15 305.85L79.85 303.55Z" fill="#fff" stroke="#000" stroke-width="0.8"/>
<path d="M97.45 300.81L99.75 303.11L97.45 305.41L95.15 303.11Z" fill="#fff" stroke="#000" stroke-width="0.8"/>
<path d="M112.75 299.93L115.05 302.23L112.75 304.53L110.45 302.23Z" fill="#fff" stroke="#000" stroke-width="0.8"/>
<path d="M128.05 299.49L130.35 301.79L128.05 304.09L125.75 301.79Z" fill="#fff" stroke="#000" stroke-width="0.8"/>
<path d="M143.35 296.64L145.65 298.94L143.35 301.24L141.05 298.94Z" fill="#fff" stroke="#000" stroke-width="0.8"/>
<path d="M158.65 290.93L160.95 293.23L158.65 295.53L156.35 293.23Z" fill="#fff" stroke="#000" stroke-width="0.8"/>
<path d="M173.95 282.37L176.25 284.67L173.95 286.97L171.65 284.67Z" fill="#fff" stroke="#000" stroke-width="0.8"/>
<path d="M189.25 290.49L191.55 292.79L189.25 295.09L186.95 292.79Z" fill="#fff" stroke="#000" stroke-width="0.8"/>
<path d="M204.55 293.57L206.85 295.87L204.55 298.17L202.25 295.87Z" fill="#fff" stroke="#000" stroke-width="0.8"/>
<path d="M219.85 297.52L222.15 299.82L219.85 302.12L217.55 299.82Z" fill="#fff" stroke="#000" stroke-width="0.8"/>
<path d="M235.15 299.06L237.45 301.36L235.15 303.66L232.85 301.36Z" fill="#fff" stroke="#000" stroke-width="0.8"/>
<path d="M250.45 299.49L252.75 301.79L250.45 304.09L248.15 301.79Z" fill="#fff" stroke="#000" stroke-width="0.8"/>
<path d="M82.15 301.15L84.55 305.35L79.75 305.35Z" fill="#000"/>
<path d="M97.45 250.01L99.85 254.21L95.05 254.21Z" fill="#000"/>
<path d="M112.75 254.4L115.15 258.6L110.35 258.6Z" fill="#000"/>
<path d="M128.05 273.71L130.45 277.91L125.65 277.91Z" fill="#000"/>
<path d="M143.35 277.44L145.75 281.64L140.95 281.64Z" fill="#000"/>
<path d="M158.65 290.83L161.05 295.03L156.25 295.03Z" fill="#000"/>
<path d="M173.95 293.47L176.35 297.67L171.55 297.67Z" fill="#000"/>
<path d="M189.25 295L191.65 299.2L186.85 299.2Z" fill="#000"/>
<path d="M204.55 296.32L206.95 300.52L202.15 300.52Z" fill="#000"/>
<path d="M219.85 299.83L222.25 304.03L217.45 304.03Z" fill="#000"/>
<path d="M235.15 300.49L237.55 304.69L232.75 304.69Z" fill="#000"/>
<path d="M250.45 299.83L252.85 304.03L248.05 304.03Z" fill="#000"/>
<rect x="80.35" y="301.75" width="3.6" height="3.6" fill="#000"/>
<rect x="95.65" y="300.65" width="3.6" height="3.6" fill="#000"/>
<rect x="110.95" y="299.56" width="3.6" height="3.6" fill="#000"/>
<rect x="126.25" y="299.56" width="3.6" height="3.6" fill="#000"/>
<rect x="141.55" y="297.36" width="3.6" height="3.6" fill="#000"/>
<rect x="156.85" y="297.36" width="3.6" height="3.6" fill="#000"/>
<rect x="172.15" y="294.07" width="3.6" height="3.6" fill="#000"/>
<rect x="187.45" y="283.31" width="3.6" height="3.6" fill="#000"/>
<rect x="202.75" y="289.46" width="3.6" height="3.6" fill="#000"/>
<rect x="218.05" y="294.07" width="3.6" height="3.6" fill="#000"/>
<rect x="233.35" y="298.46" width="3.6" height="3.6" fill="#000"/>
<rect x="248.65" y="299.12" width="3.6" height="3.6" fill="#000"/>
<circle cx="82.15" cy="303.55" r="2.4" fill="#000"/>
<text x="106.7" y="205" font-size="6.9" font-weight="bold" text-anchor="start">ALK1</text>
<text x="106.7" y="248.7" font-size="6.9" font-weight="bold" text-anchor="start">MGP</text>
<text x="165.9" y="275" font-size="6.9" font-weight="bold" text-anchor="start">ALK5</text>
<text x="195.5" y="282.8" font-size="6.9" font-weight="bold" text-anchor="start">VEGF</text>
<line x1="334.7" y1="193.3" x2="334.7" y2="348.8" stroke="#888" stroke-width="1.2"/>
<line x1="350" y1="193.3" x2="350" y2="348.8" stroke="#111" stroke-width="1.4"/>
<line x1="365.3" y1="193.3" x2="365.3" y2="348.8" stroke="#888" stroke-width="1.2"/>
<line x1="319.4" y1="193.3" x2="319.4" y2="348.8" stroke="#333" stroke-width="1.0"/>
<line x1="317.2" y1="325.5" x2="319.4" y2="325.5" stroke="#111" stroke-width="0.9"/>
<text x="313.8" y="327.8" font-size="6.5" font-weight="bold" text-anchor="end">0</text>
<line x1="317.2" y1="303.55" x2="319.4" y2="303.55" stroke="#111" stroke-width="0.9"/>
<text x="313.8" y="305.85" font-size="6.5" font-weight="bold" text-anchor="end">1</text>
<line x1="317.2" y1="281.6" x2="319.4" y2="281.6" stroke="#111" stroke-width="0.9"/>
<text x="313.8" y="283.9" font-size="6.5" font-weight="bold" text-anchor="end">2</text>
<line x1="317.2" y1="259.65" x2="319.4" y2="259.65" stroke="#111" stroke-width="0.9"/>
<text x="313.8" y="261.95" font-size="6.5" font-weight="bold" text-anchor="end">3</text>
<line x1="317.2" y1="237.7" x2="319.4" y2="237.7" stroke="#111" stroke-width="0.9"/>
<text x="313.8" y="240" font-size="6.5" font-weight="bold" text-anchor="end">4</text>
<line x1="317.2" y1="215.75" x2="319.4" y2="215.75" stroke="#111" stroke-width="0.9"/>
<text x="313.8" y="218.05" font-size="6.5" font-weight="bold" text-anchor="end">5</text>
<line x1="317.2" y1="193.8" x2="319.4" y2="193.8" stroke="#111" stroke-width="0.9"/>
<text x="313.8" y="196.1" font-size="6.5" font-weight="bold" text-anchor="end">6</text>
<text x="0" y="0" font-size="7.4" font-weight="bold" text-anchor="middle" transform="translate(306.5 258.75) rotate(-90) scale(1.14 1)">Relative RNA Expression (fold)</text>
<line x1="318.9" y1="325.4" x2="518.3" y2="325.4" stroke="#222" stroke-width="1.0"/>
<line x1="319.4" y1="339.1" x2="518.3" y2="339.1" stroke="#555" stroke-width="1.0"/>
<line x1="319.4" y1="348.8" x2="518.3" y2="348.8" stroke="#555" stroke-width="1.0"/>
<line x1="334.7" y1="325.4" x2="334.7" y2="348.8" stroke="#666" stroke-width="1.0"/>
<line x1="350" y1="325.4" x2="350" y2="348.8" stroke="#666" stroke-width="1.0"/>
<line x1="365.3" y1="325.4" x2="365.3" y2="348.8" stroke="#666" stroke-width="1.0"/>
<line x1="380.6" y1="325.4" x2="380.6" y2="348.8" stroke="#666" stroke-width="1.0"/>
<line x1="395.9" y1="325.4" x2="395.9" y2="348.8" stroke="#666" stroke-width="1.0"/>
<line x1="411.2" y1="325.4" x2="411.2" y2="348.8" stroke="#666" stroke-width="1.0"/>
<line x1="426.5" y1="325.4" x2="426.5" y2="348.8" stroke="#666" stroke-width="1.0"/>
<line x1="441.8" y1="325.4" x2="441.8" y2="348.8" stroke="#666" stroke-width="1.0"/>
<line x1="457.1" y1="325.4" x2="457.1" y2="348.8" stroke="#666" stroke-width="1.0"/>
<line x1="472.4" y1="325.4" x2="472.4" y2="348.8" stroke="#666" stroke-width="1.0"/>
<line x1="487.7" y1="325.4" x2="487.7" y2="348.8" stroke="#666" stroke-width="1.0"/>
<line x1="503" y1="325.4" x2="503" y2="348.8" stroke="#666" stroke-width="1.0"/>
<line x1="518.3" y1="325.4" x2="518.3" y2="348.8" stroke="#666" stroke-width="1.0"/>
<text x="326.65" y="336.7" font-size="7.0" font-weight="bold" text-anchor="middle">-12S</text>
<text transform="translate(342.35 336.7) scale(0.95 1)" font-size="6.8" font-weight="bold" text-anchor="middle">-12</text>
<text transform="translate(357.65 336.7) scale(0.95 1)" font-size="6.8" font-weight="bold" text-anchor="middle">0</text>
<text transform="translate(372.95 336.7) scale(0.95 1)" font-size="6.8" font-weight="bold" text-anchor="middle">0</text>
<text transform="translate(388.25 336.7) scale(0.95 1)" font-size="6.8" font-weight="bold" text-anchor="middle">2</text>
<text transform="translate(403.55 336.7) scale(0.95 1)" font-size="6.8" font-weight="bold" text-anchor="middle">4</text>
<text transform="translate(418.85 336.7) scale(0.95 1)" font-size="6.8" font-weight="bold" text-anchor="middle">6</text>
<text transform="translate(434.15 336.7) scale(0.95 1)" font-size="6.8" font-weight="bold" text-anchor="middle">8</text>
<text transform="translate(449.45 336.7) scale(0.95 1)" font-size="6.8" font-weight="bold" text-anchor="middle">10</text>
<text transform="translate(464.75 336.7) scale(0.95 1)" font-size="6.8" font-weight="bold" text-anchor="middle">12</text>
<text transform="translate(480.05 336.7) scale(0.95 1)" font-size="6.8" font-weight="bold" text-anchor="middle">16</text>
<text transform="translate(495.35 336.7) scale(0.95 1)" font-size="6.8" font-weight="bold" text-anchor="middle">20</text>
<text transform="translate(510.65 336.7) scale(0.95 1)" font-size="6.8" font-weight="bold" text-anchor="middle">24</text>
<text x="317.6" y="336.7" font-size="7.2" font-weight="bold" text-anchor="end">Time (hrs)</text>
<text x="326.65" y="346.4" font-size="7.0" font-weight="bold" text-anchor="middle">40S</text>
<text transform="translate(342.35 346.4) scale(0.95 1)" font-size="6.8" font-weight="bold" text-anchor="middle">40</text>
<text transform="translate(357.65 346.4) scale(0.95 1)" font-size="6.8" font-weight="bold" text-anchor="middle">0</text>
<text transform="translate(372.95 346.4) scale(0.95 1)" font-size="6.8" font-weight="bold" text-anchor="middle">0</text>
<text transform="translate(388.25 346.4) scale(0.95 1)" font-size="6.8" font-weight="bold" text-anchor="middle">0</text>
<text transform="translate(403.55 346.4) scale(0.95 1)" font-size="6.8" font-weight="bold" text-anchor="middle">0</text>
<text transform="translate(418.85 346.4) scale(0.95 1)" font-size="6.8" font-weight="bold" text-anchor="middle">0</text>
<text transform="translate(434.15 346.4) scale(0.95 1)" font-size="6.8" font-weight="bold" text-anchor="middle">0</text>
<text transform="translate(449.45 346.4) scale(0.95 1)" font-size="6.8" font-weight="bold" text-anchor="middle">0</text>
<text transform="translate(464.75 346.4) scale(0.95 1)" font-size="6.8" font-weight="bold" text-anchor="middle">0</text>
<text transform="translate(480.05 346.4) scale(0.95 1)" font-size="6.8" font-weight="bold" text-anchor="middle">0</text>
<text transform="translate(495.35 346.4) scale(0.95 1)" font-size="6.8" font-weight="bold" text-anchor="middle">0</text>
<text transform="translate(510.65 346.4) scale(0.95 1)" font-size="6.8" font-weight="bold" text-anchor="middle">0</text>
<text x="317.6" y="346.4" font-size="7.2" font-weight="bold" text-anchor="end">BMP-4 (ng/mL)</text>
<text x="317.7" y="354.8" font-size="7.1" font-weight="bold" text-anchor="end">+ ALK1/Fc</text>
<text x="459.3" y="201.3" font-size="10" font-weight="normal" text-anchor="start">BMP-4</text>
<text x="0" y="0" font-size="7.1" font-weight="bold" text-anchor="middle" transform="translate(330.1 236.4) rotate(-90)">scrambled</text>
<line x1="327.05" y1="301.79" x2="327.05" y2="305.31" stroke="#888" stroke-width="0.8"/>
<line x1="326.05" y1="301.79" x2="328.05" y2="301.79" stroke="#888" stroke-width="0.8"/>
<line x1="326.05" y1="305.31" x2="328.05" y2="305.31" stroke="#888" stroke-width="0.8"/>
<line x1="342.35" y1="320.45" x2="342.35" y2="323.96" stroke="#888" stroke-width="0.8"/>
<line x1="341.35" y1="320.45" x2="343.35" y2="320.45" stroke="#888" stroke-width="0.8"/>
<line x1="341.35" y1="323.96" x2="343.35" y2="323.96" stroke="#888" stroke-width="0.8"/>
<line x1="357.65" y1="320.45" x2="357.65" y2="323.96" stroke="#888" stroke-width="0.8"/>
<line x1="356.65" y1="320.45" x2="358.65" y2="320.45" stroke="#888" stroke-width="0.8"/>
<line x1="356.65" y1="323.96" x2="358.65" y2="323.96" stroke="#888" stroke-width="0.8"/>
<line x1="372.95" y1="320.45" x2="372.95" y2="323.96" stroke="#888" stroke-width="0.8"/>
<line x1="371.95" y1="320.45" x2="373.95" y2="320.45" stroke="#888" stroke-width="0.8"/>
<line x1="371.95" y1="323.96" x2="373.95" y2="323.96" stroke="#888" stroke-width="0.8"/>
<line x1="388.25" y1="320.45" x2="388.25" y2="323.96" stroke="#888" stroke-width="0.8"/>
<line x1="387.25" y1="320.45" x2="389.25" y2="320.45" stroke="#888" stroke-width="0.8"/>
<line x1="387.25" y1="323.96" x2="389.25" y2="323.96" stroke="#888" stroke-width="0.8"/>
<line x1="403.55" y1="320.45" x2="403.55" y2="323.96" stroke="#888" stroke-width="0.8"/>
<line x1="402.55" y1="320.45" x2="404.55" y2="320.45" stroke="#888" stroke-width="0.8"/>
<line x1="402.55" y1="323.96" x2="404.55" y2="323.96" stroke="#888" stroke-width="0.8"/>
<line x1="418.85" y1="320.45" x2="418.85" y2="323.96" stroke="#888" stroke-width="0.8"/>
<line x1="417.85" y1="320.45" x2="419.85" y2="320.45" stroke="#888" stroke-width="0.8"/>
<line x1="417.85" y1="323.96" x2="419.85" y2="323.96" stroke="#888" stroke-width="0.8"/>
<line x1="434.15" y1="320.23" x2="434.15" y2="323.74" stroke="#888" stroke-width="0.8"/>
<line x1="433.15" y1="320.23" x2="435.15" y2="320.23" stroke="#888" stroke-width="0.8"/>
<line x1="433.15" y1="323.74" x2="435.15" y2="323.74" stroke="#888" stroke-width="0.8"/>
<line x1="449.45" y1="320.45" x2="449.45" y2="323.96" stroke="#888" stroke-width="0.8"/>
<line x1="448.45" y1="320.45" x2="450.45" y2="320.45" stroke="#888" stroke-width="0.8"/>
<line x1="448.45" y1="323.96" x2="450.45" y2="323.96" stroke="#888" stroke-width="0.8"/>
<line x1="464.75" y1="320.23" x2="464.75" y2="323.74" stroke="#888" stroke-width="0.8"/>
<line x1="463.75" y1="320.23" x2="465.75" y2="320.23" stroke="#888" stroke-width="0.8"/>
<line x1="463.75" y1="323.74" x2="465.75" y2="323.74" stroke="#888" stroke-width="0.8"/>
<line x1="480.05" y1="320.01" x2="480.05" y2="323.52" stroke="#888" stroke-width="0.8"/>
<line x1="479.05" y1="320.01" x2="481.05" y2="320.01" stroke="#888" stroke-width="0.8"/>
<line x1="479.05" y1="323.52" x2="481.05" y2="323.52" stroke="#888" stroke-width="0.8"/>
<line x1="495.35" y1="319.79" x2="495.35" y2="323.31" stroke="#888" stroke-width="0.8"/>
<line x1="494.35" y1="319.79" x2="496.35" y2="319.79" stroke="#888" stroke-width="0.8"/>
<line x1="494.35" y1="323.31" x2="496.35" y2="323.31" stroke="#888" stroke-width="0.8"/>
<line x1="510.65" y1="318.48" x2="510.65" y2="321.99" stroke="#888" stroke-width="0.8"/>
<line x1="509.65" y1="318.48" x2="511.65" y2="318.48" stroke="#888" stroke-width="0.8"/>
<line x1="509.65" y1="321.99" x2="511.65" y2="321.99" stroke="#888" stroke-width="0.8"/>
<line x1="342.35" y1="300.26" x2="342.35" y2="304.65" stroke="#888" stroke-width="0.8"/>
<line x1="341.35" y1="300.26" x2="343.35" y2="300.26" stroke="#888" stroke-width="0.8"/>
<line x1="341.35" y1="304.65" x2="343.35" y2="304.65" stroke="#888" stroke-width="0.8"/>
<line x1="357.65" y1="302.45" x2="357.65" y2="306.84" stroke="#888" stroke-width="0.8"/>
<line x1="356.65" y1="302.45" x2="358.65" y2="302.45" stroke="#888" stroke-width="0.8"/>
<line x1="356.65" y1="306.84" x2="358.65" y2="306.84" stroke="#888" stroke-width="0.8"/>
<line x1="372.95" y1="301.36" x2="372.95" y2="305.75" stroke="#888" stroke-width="0.8"/>
<line x1="371.95" y1="301.36" x2="373.95" y2="301.36" stroke="#888" stroke-width="0.8"/>
<line x1="371.95" y1="305.75" x2="373.95" y2="305.75" stroke="#888" stroke-width="0.8"/>
<line x1="388.25" y1="296.53" x2="388.25" y2="300.92" stroke="#888" stroke-width="0.8"/>
<line x1="387.25" y1="296.53" x2="389.25" y2="296.53" stroke="#888" stroke-width="0.8"/>
<line x1="387.25" y1="300.92" x2="389.25" y2="300.92" stroke="#888" stroke-width="0.8"/>
<line x1="403.55" y1="296.96" x2="403.55" y2="301.36" stroke="#888" stroke-width="0.8"/>
<line x1="402.55" y1="296.96" x2="404.55" y2="296.96" stroke="#888" stroke-width="0.8"/>
<line x1="402.55" y1="301.36" x2="404.55" y2="301.36" stroke="#888" stroke-width="0.8"/>
<line x1="418.85" y1="297.4" x2="418.85" y2="301.79" stroke="#888" stroke-width="0.8"/>
<line x1="417.85" y1="297.4" x2="419.85" y2="297.4" stroke="#888" stroke-width="0.8"/>
<line x1="417.85" y1="301.79" x2="419.85" y2="301.79" stroke="#888" stroke-width="0.8"/>
<line x1="434.15" y1="296.96" x2="434.15" y2="301.36" stroke="#888" stroke-width="0.8"/>
<line x1="433.15" y1="296.96" x2="435.15" y2="296.96" stroke="#888" stroke-width="0.8"/>
<line x1="433.15" y1="301.36" x2="435.15" y2="301.36" stroke="#888" stroke-width="0.8"/>
<line x1="449.45" y1="299.16" x2="449.45" y2="303.55" stroke="#888" stroke-width="0.8"/>
<line x1="448.45" y1="299.16" x2="450.45" y2="299.16" stroke="#888" stroke-width="0.8"/>
<line x1="448.45" y1="303.55" x2="450.45" y2="303.55" stroke="#888" stroke-width="0.8"/>
<line x1="464.75" y1="298.72" x2="464.75" y2="303.11" stroke="#888" stroke-width="0.8"/>
<line x1="463.75" y1="298.72" x2="465.75" y2="298.72" stroke="#888" stroke-width="0.8"/>
<line x1="463.75" y1="303.11" x2="465.75" y2="303.11" stroke="#888" stroke-width="0.8"/>
<line x1="480.05" y1="298.72" x2="480.05" y2="303.11" stroke="#888" stroke-width="0.8"/>
<line x1="479.05" y1="298.72" x2="481.05" y2="298.72" stroke="#888" stroke-width="0.8"/>
<line x1="479.05" y1="303.11" x2="481.05" y2="303.11" stroke="#888" stroke-width="0.8"/>
<line x1="495.35" y1="300.26" x2="495.35" y2="304.65" stroke="#888" stroke-width="0.8"/>
<line x1="494.35" y1="300.26" x2="496.35" y2="300.26" stroke="#888" stroke-width="0.8"/>
<line x1="494.35" y1="304.65" x2="496.35" y2="304.65" stroke="#888" stroke-width="0.8"/>
<line x1="510.65" y1="299.16" x2="510.65" y2="303.55" stroke="#888" stroke-width="0.8"/>
<line x1="509.65" y1="299.16" x2="511.65" y2="299.16" stroke="#888" stroke-width="0.8"/>
<line x1="509.65" y1="303.55" x2="511.65" y2="303.55" stroke="#888" stroke-width="0.8"/>
<line x1="342.35" y1="298.28" x2="342.35" y2="304.87" stroke="#888" stroke-width="0.8"/>
<line x1="341.35" y1="298.28" x2="343.35" y2="298.28" stroke="#888" stroke-width="0.8"/>
<line x1="341.35" y1="304.87" x2="343.35" y2="304.87" stroke="#888" stroke-width="0.8"/>
<line x1="357.65" y1="295.87" x2="357.65" y2="304.65" stroke="#888" stroke-width="0.8"/>
<line x1="356.65" y1="295.87" x2="358.65" y2="295.87" stroke="#888" stroke-width="0.8"/>
<line x1="356.65" y1="304.65" x2="358.65" y2="304.65" stroke="#888" stroke-width="0.8"/>
<line x1="372.95" y1="298.28" x2="372.95" y2="304.87" stroke="#888" stroke-width="0.8"/>
<line x1="371.95" y1="298.28" x2="373.95" y2="298.28" stroke="#888" stroke-width="0.8"/>
<line x1="371.95" y1="304.87" x2="373.95" y2="304.87" stroke="#888" stroke-width="0.8"/>
<line x1="388.25" y1="298.28" x2="388.25" y2="307.06" stroke="#888" stroke-width="0.8"/>
<line x1="387.25" y1="298.28" x2="389.25" y2="298.28" stroke="#888" stroke-width="0.8"/>
<line x1="387.25" y1="307.06" x2="389.25" y2="307.06" stroke="#888" stroke-width="0.8"/>
<line x1="403.55" y1="299.38" x2="403.55" y2="305.96" stroke="#888" stroke-width="0.8"/>
<line x1="402.55" y1="299.38" x2="404.55" y2="299.38" stroke="#888" stroke-width="0.8"/>
<line x1="402.55" y1="305.96" x2="404.55" y2="305.96" stroke="#888" stroke-width="0.8"/>
<line x1="418.85" y1="298.06" x2="418.85" y2="304.65" stroke="#888" stroke-width="0.8"/>
<line x1="417.85" y1="298.06" x2="419.85" y2="298.06" stroke="#888" stroke-width="0.8"/>
<line x1="417.85" y1="304.65" x2="419.85" y2="304.65" stroke="#888" stroke-width="0.8"/>
<line x1="434.15" y1="299.6" x2="434.15" y2="303.99" stroke="#888" stroke-width="0.8"/>
<line x1="433.15" y1="299.6" x2="435.15" y2="299.6" stroke="#888" stroke-width="0.8"/>
<line x1="433.15" y1="303.99" x2="435.15" y2="303.99" stroke="#888" stroke-width="0.8"/>
<line x1="449.45" y1="298.5" x2="449.45" y2="305.09" stroke="#888" stroke-width="0.8"/>
<line x1="448.45" y1="298.5" x2="450.45" y2="298.5" stroke="#888" stroke-width="0.8"/>
<line x1="448.45" y1="305.09" x2="450.45" y2="305.09" stroke="#888" stroke-width="0.8"/>
<line x1="464.75" y1="296.96" x2="464.75" y2="305.75" stroke="#888" stroke-width="0.8"/>
<line x1="463.75" y1="296.96" x2="465.75" y2="296.96" stroke="#888" stroke-width="0.8"/>
<line x1="463.75" y1="305.75" x2="465.75" y2="305.75" stroke="#888" stroke-width="0.8"/>
<line x1="480.05" y1="297.4" x2="480.05" y2="306.18" stroke="#888" stroke-width="0.8"/>
<line x1="479.05" y1="297.4" x2="481.05" y2="297.4" stroke="#888" stroke-width="0.8"/>
<line x1="479.05" y1="306.18" x2="481.05" y2="306.18" stroke="#888" stroke-width="0.8"/>
<line x1="495.35" y1="299.16" x2="495.35" y2="307.94" stroke="#888" stroke-width="0.8"/>
<line x1="494.35" y1="299.16" x2="496.35" y2="299.16" stroke="#888" stroke-width="0.8"/>
<line x1="494.35" y1="307.94" x2="496.35" y2="307.94" stroke="#888" stroke-width="0.8"/>
<line x1="510.65" y1="298.5" x2="510.65" y2="305.09" stroke="#888" stroke-width="0.8"/>
<line x1="509.65" y1="298.5" x2="511.65" y2="298.5" stroke="#888" stroke-width="0.8"/>
<line x1="509.65" y1="305.09" x2="511.65" y2="305.09" stroke="#888" stroke-width="0.8"/>
<line x1="342.35" y1="217.94" x2="342.35" y2="239.89" stroke="#888" stroke-width="0.8"/>
<line x1="341.35" y1="217.94" x2="343.35" y2="217.94" stroke="#888" stroke-width="0.8"/>
<line x1="341.35" y1="239.89" x2="343.35" y2="239.89" stroke="#888" stroke-width="0.8"/>
<line x1="357.65" y1="209.17" x2="357.65" y2="233.31" stroke="#888" stroke-width="0.8"/>
<line x1="356.65" y1="209.17" x2="358.65" y2="209.17" stroke="#888" stroke-width="0.8"/>
<line x1="356.65" y1="233.31" x2="358.65" y2="233.31" stroke="#888" stroke-width="0.8"/>
<line x1="372.95" y1="223.87" x2="372.95" y2="248.02" stroke="#888" stroke-width="0.8"/>
<line x1="371.95" y1="223.87" x2="373.95" y2="223.87" stroke="#888" stroke-width="0.8"/>
<line x1="371.95" y1="248.02" x2="373.95" y2="248.02" stroke="#888" stroke-width="0.8"/>
<line x1="388.25" y1="232.87" x2="388.25" y2="261.41" stroke="#888" stroke-width="0.8"/>
<line x1="387.25" y1="232.87" x2="389.25" y2="232.87" stroke="#888" stroke-width="0.8"/>
<line x1="387.25" y1="261.41" x2="389.25" y2="261.41" stroke="#888" stroke-width="0.8"/>
<line x1="403.55" y1="257.45" x2="403.55" y2="264.04" stroke="#888" stroke-width="0.8"/>
<line x1="402.55" y1="257.45" x2="404.55" y2="257.45" stroke="#888" stroke-width="0.8"/>
<line x1="402.55" y1="264.04" x2="404.55" y2="264.04" stroke="#888" stroke-width="0.8"/>
<line x1="418.85" y1="264.26" x2="418.85" y2="281.82" stroke="#888" stroke-width="0.8"/>
<line x1="417.85" y1="264.26" x2="419.85" y2="264.26" stroke="#888" stroke-width="0.8"/>
<line x1="417.85" y1="281.82" x2="419.85" y2="281.82" stroke="#888" stroke-width="0.8"/>
<line x1="434.15" y1="273.26" x2="434.15" y2="288.62" stroke="#888" stroke-width="0.8"/>
<line x1="433.15" y1="273.26" x2="435.15" y2="273.26" stroke="#888" stroke-width="0.8"/>
<line x1="433.15" y1="288.62" x2="435.15" y2="288.62" stroke="#888" stroke-width="0.8"/>
<line x1="449.45" y1="285.11" x2="449.45" y2="291.7" stroke="#888" stroke-width="0.8"/>
<line x1="448.45" y1="285.11" x2="450.45" y2="285.11" stroke="#888" stroke-width="0.8"/>
<line x1="448.45" y1="291.7" x2="450.45" y2="291.7" stroke="#888" stroke-width="0.8"/>
<line x1="464.75" y1="282.26" x2="464.75" y2="304.21" stroke="#888" stroke-width="0.8"/>
<line x1="463.75" y1="282.26" x2="465.75" y2="282.26" stroke="#888" stroke-width="0.8"/>
<line x1="463.75" y1="304.21" x2="465.75" y2="304.21" stroke="#888" stroke-width="0.8"/>
<line x1="480.05" y1="283.36" x2="480.05" y2="303.11" stroke="#888" stroke-width="0.8"/>
<line x1="479.05" y1="283.36" x2="481.05" y2="283.36" stroke="#888" stroke-width="0.8"/>
<line x1="479.05" y1="303.11" x2="481.05" y2="303.11" stroke="#888" stroke-width="0.8"/>
<line x1="495.35" y1="285.11" x2="495.35" y2="302.67" stroke="#888" stroke-width="0.8"/>
<line x1="494.35" y1="285.11" x2="496.35" y2="285.11" stroke="#888" stroke-width="0.8"/>
<line x1="494.35" y1="302.67" x2="496.35" y2="302.67" stroke="#888" stroke-width="0.8"/>
<line x1="510.65" y1="286.43" x2="510.65" y2="297.4" stroke="#888" stroke-width="0.8"/>
<line x1="509.65" y1="286.43" x2="511.65" y2="286.43" stroke="#888" stroke-width="0.8"/>
<line x1="509.65" y1="297.4" x2="511.65" y2="297.4" stroke="#888" stroke-width="0.8"/>
<path d="M327.05 303.55L342.35 322.21L357.65 322.21L372.95 322.21L388.25 322.21L403.55 322.21L418.85 322.21L434.15 321.99L449.45 322.21L464.75 321.99L480.05 321.77L495.35 321.55L510.65 320.23" fill="none" stroke="#000" stroke-width="1.2" stroke-linejoin="round"/>
<path d="M327.05 303.55L342.35 302.45L357.65 304.65L372.95 303.55L388.25 298.72L403.55 299.16L418.85 299.6L434.15 299.16L449.45 301.36L464.75 300.92L480.05 300.92L495.35 302.45L510.65 301.36" fill="none" stroke="#000" stroke-width="1.2" stroke-linejoin="round"/>
<path d="M327.05 303.55L342.35 301.57L357.65 300.26L372.95 301.57L388.25 302.67L403.55 302.67L418.85 301.36L434.15 301.79L449.45 301.79L464.75 301.36L480.05 301.79L495.35 303.55L510.65 301.79" fill="none" stroke="#000" stroke-width="1.2" stroke-linejoin="round"/>
<path d="M327.05 303.55L342.35 228.92L357.65 221.24L372.95 235.94L388.25 247.14L403.55 260.75L418.85 273.04L434.15 280.94L449.45 288.4L464.75 293.23L480.05 293.23L495.35 293.89L510.65 291.92" fill="none" stroke="#000" stroke-width="1.2" stroke-linejoin="round"/>
<circle cx="327.05" cy="303.55" r="1.9" fill="#fff" stroke="#000" stroke-width="0.8"/>
<circle cx="342.35" cy="322.21" r="1.9" fill="#fff" stroke="#000" stroke-width="0.8"/>
<circle cx="357.65" cy="322.21" r="1.9" fill="#fff" stroke="#000" stroke-width="0.8"/>
<circle cx="372.95" cy="322.21" r="1.9" fill="#fff" stroke="#000" stroke-width="0.8"/>
<circle cx="388.25" cy="322.21" r="1.9" fill="#fff" stroke="#000" stroke-width="0.8"/>
<circle cx="403.55" cy="322.21" r="1.9" fill="#fff" stroke="#000" stroke-width="0.8"/>
<circle cx="418.85" cy="322.21" r="1.9" fill="#fff" stroke="#000" stroke-width="0.8"/>
<circle cx="434.15" cy="321.99" r="1.9" fill="#fff" stroke="#000" stroke-width="0.8"/>
<circle cx="449.45" cy="322.21" r="1.9" fill="#fff" stroke="#000" stroke-width="0.8"/>
<circle cx="464.75" cy="321.99" r="1.9" fill="#fff" stroke="#000" stroke-width="0.8"/>
<circle cx="480.05" cy="321.77" r="1.9" fill="#fff" stroke="#000" stroke-width="0.8"/>
<circle cx="495.35" cy="321.55" r="1.9" fill="#fff" stroke="#000" stroke-width="0.8"/>
<circle cx="510.65" cy="320.23" r="1.9" fill="#fff" stroke="#000" stroke-width="0.8"/>
<path d="M327.05 301.25L329.35 303.55L327.05 305.85L324.75 303.55Z" fill="#fff" stroke="#000" stroke-width="0.8"/>
<path d="M342.35 300.15L344.65 302.45L342.35 304.75L340.05 302.45Z" fill="#fff" stroke="#000" stroke-width="0.8"/>
<path d="M357.65 302.35L359.95 304.65L357.65 306.95L355.35 304.65Z" fill="#fff" stroke="#000" stroke-width="0.8"/>
<path d="M372.95 301.25L375.25 303.55L372.95 305.85L370.65 303.55Z" fill="#fff" stroke="#000" stroke-width="0.8"/>
<path d="M388.25 296.42L390.55 298.72L388.25 301.02L385.95 298.72Z" fill="#fff" stroke="#000" stroke-width="0.8"/>
<path d="M403.55 296.86L405.85 299.16L403.55 301.46L401.25 299.16Z" fill="#fff" stroke="#000" stroke-width="0.8"/>
<path d="M418.85 297.3L421.15 299.6L418.85 301.9L416.55 299.6Z" fill="#fff" stroke="#000" stroke-width="0.8"/>
<path d="M434.15 296.86L436.45 299.16L434.15 301.46L431.85 299.16Z" fill="#fff" stroke="#000" stroke-width="0.8"/>
<path d="M449.45 299.06L451.75 301.36L449.45 303.66L447.15 301.36Z" fill="#fff" stroke="#000" stroke-width="0.8"/>
<path d="M464.75 298.62L467.05 300.92L464.75 303.22L462.45 300.92Z" fill="#fff" stroke="#000" stroke-width="0.8"/>
<path d="M480.05 298.62L482.35 300.92L480.05 303.22L477.75 300.92Z" fill="#fff" stroke="#000" stroke-width="0.8"/>
<path d="M495.35 300.15L497.65 302.45L495.35 304.75L493.05 302.45Z" fill="#fff" stroke="#000" stroke-width="0.8"/>
<path d="M510.65 299.06L512.95 301.36L510.65 303.66L508.35 301.36Z" fill="#fff" stroke="#000" stroke-width="0.8"/>
<path d="M327.05 301.15L329.45 305.35L324.65 305.35Z" fill="#000"/>
<path d="M342.35 299.17L344.75 303.37L339.95 303.37Z" fill="#000"/>
<path d="M357.65 297.86L360.05 302.06L355.25 302.06Z" fill="#000"/>
<path d="M372.95 299.17L375.35 303.37L370.55 303.37Z" fill="#000"/>
<path d="M388.25 300.27L390.65 304.47L385.85 304.47Z" fill="#000"/>
<path d="M403.55 300.27L405.95 304.47L401.15 304.47Z" fill="#000"/>
<path d="M418.85 298.96L421.25 303.16L416.45 303.16Z" fill="#000"/>
<path d="M434.15 299.39L436.55 303.59L431.75 303.59Z" fill="#000"/>
<path d="M449.45 299.39L451.85 303.59L447.05 303.59Z" fill="#000"/>
<path d="M464.75 298.96L467.15 303.16L462.35 303.16Z" fill="#000"/>
<path d="M480.05 299.39L482.45 303.59L477.65 303.59Z" fill="#000"/>
<path d="M495.35 301.15L497.75 305.35L492.95 305.35Z" fill="#000"/>
<path d="M510.65 299.39L513.05 303.59L508.25 303.59Z" fill="#000"/>
<rect x="325.25" y="301.75" width="3.6" height="3.6" fill="#000"/>
<rect x="340.55" y="227.12" width="3.6" height="3.6" fill="#000"/>
<rect x="355.85" y="219.44" width="3.6" height="3.6" fill="#000"/>
<rect x="371.15" y="234.14" width="3.6" height="3.6" fill="#000"/>
<rect x="386.45" y="245.34" width="3.6" height="3.6" fill="#000"/>
<rect x="401.75" y="258.95" width="3.6" height="3.6" fill="#000"/>
<rect x="417.05" y="271.24" width="3.6" height="3.6" fill="#000"/>
<rect x="432.35" y="279.14" width="3.6" height="3.6" fill="#000"/>
<rect x="447.65" y="286.6" width="3.6" height="3.6" fill="#000"/>
<rect x="462.95" y="291.43" width="3.6" height="3.6" fill="#000"/>
<rect x="478.25" y="291.43" width="3.6" height="3.6" fill="#000"/>
<rect x="493.55" y="292.09" width="3.6" height="3.6" fill="#000"/>
<rect x="508.85" y="290.12" width="3.6" height="3.6" fill="#000"/>
<circle cx="327.05" cy="303.55" r="2.4" fill="#000"/>
<text x="377.9" y="222.3" font-size="6.9" font-weight="bold" text-anchor="start">VEGF</text>
<text x="378.5" y="291.4" font-size="6.9" font-weight="bold" text-anchor="start">ALK5</text>
<text x="404" y="291.4" font-size="6.9" font-weight="bold" text-anchor="start">MGP</text>
<text x="377.8" y="316" font-size="6.9" font-weight="bold" text-anchor="start">ALK1</text>
<line x1="89.8" y1="367.9" x2="89.8" y2="534.6" stroke="#111" stroke-width="1.4"/>
<line x1="105.1" y1="367.9" x2="105.1" y2="534.6" stroke="#888" stroke-width="1.2"/>
<line x1="59.2" y1="367.9" x2="59.2" y2="534.6" stroke="#333" stroke-width="1.0"/>
<line x1="57" y1="500.5" x2="59.2" y2="500.5" stroke="#111" stroke-width="0.9"/>
<text x="53.6" y="502.8" font-size="6.5" font-weight="bold" text-anchor="end">0</text>
<line x1="57" y1="478.48" x2="59.2" y2="478.48" stroke="#111" stroke-width="0.9"/>
<text x="53.6" y="480.78" font-size="6.5" font-weight="bold" text-anchor="end">1</text>
<line x1="57" y1="456.47" x2="59.2" y2="456.47" stroke="#111" stroke-width="0.9"/>
<text x="53.6" y="458.77" font-size="6.5" font-weight="bold" text-anchor="end">2</text>
<line x1="57" y1="434.45" x2="59.2" y2="434.45" stroke="#111" stroke-width="0.9"/>
<text x="53.6" y="436.75" font-size="6.5" font-weight="bold" text-anchor="end">3</text>
<line x1="57" y1="412.43" x2="59.2" y2="412.43" stroke="#111" stroke-width="0.9"/>
<text x="53.6" y="414.73" font-size="6.5" font-weight="bold" text-anchor="end">4</text>
<line x1="57" y1="390.42" x2="59.2" y2="390.42" stroke="#111" stroke-width="0.9"/>
<text x="53.6" y="392.72" font-size="6.5" font-weight="bold" text-anchor="end">5</text>
<line x1="57" y1="368.4" x2="59.2" y2="368.4" stroke="#111" stroke-width="0.9"/>
<text x="53.6" y="370.7" font-size="6.5" font-weight="bold" text-anchor="end">6</text>
<text x="0" y="0" font-size="7.4" font-weight="bold" text-anchor="middle" transform="translate(45.4 433.55) rotate(-90) scale(1.14 1)">Relative RNA Expression (fold)</text>
<line x1="58.7" y1="500.4" x2="258.1" y2="500.4" stroke="#222" stroke-width="1.0"/>
<line x1="59.2" y1="514.1" x2="258.1" y2="514.1" stroke="#555" stroke-width="1.0"/>
<line x1="59.2" y1="524.2" x2="258.1" y2="524.2" stroke="#555" stroke-width="1.0"/>
<line x1="59.2" y1="534.6" x2="258.1" y2="534.6" stroke="#555" stroke-width="1.0"/>
<line x1="74.5" y1="500.4" x2="74.5" y2="534.6" stroke="#666" stroke-width="1.0"/>
<line x1="89.8" y1="500.4" x2="89.8" y2="534.6" stroke="#666" stroke-width="1.0"/>
<line x1="105.1" y1="500.4" x2="105.1" y2="534.6" stroke="#666" stroke-width="1.0"/>
<line x1="120.4" y1="500.4" x2="120.4" y2="534.6" stroke="#666" stroke-width="1.0"/>
<line x1="135.7" y1="500.4" x2="135.7" y2="534.6" stroke="#666" stroke-width="1.0"/>
<line x1="151" y1="500.4" x2="151" y2="534.6" stroke="#666" stroke-width="1.0"/>
<line x1="166.3" y1="500.4" x2="166.3" y2="534.6" stroke="#666" stroke-width="1.0"/>
<line x1="181.6" y1="500.4" x2="181.6" y2="534.6" stroke="#666" stroke-width="1.0"/>
<line x1="196.9" y1="500.4" x2="196.9" y2="534.6" stroke="#666" stroke-width="1.0"/>
<line x1="212.2" y1="500.4" x2="212.2" y2="534.6" stroke="#666" stroke-width="1.0"/>
<line x1="227.5" y1="500.4" x2="227.5" y2="534.6" stroke="#666" stroke-width="1.0"/>
<line x1="242.8" y1="500.4" x2="242.8" y2="534.6" stroke="#666" stroke-width="1.0"/>
<line x1="258.1" y1="500.4" x2="258.1" y2="534.6" stroke="#666" stroke-width="1.0"/>
<text x="81.75" y="511.7" font-size="7.0" font-weight="bold" text-anchor="middle">-12S</text>
<text transform="translate(97.45 511.7) scale(0.95 1)" font-size="6.8" font-weight="bold" text-anchor="middle">0</text>
<text transform="translate(112.75 511.7) scale(0.95 1)" font-size="6.8" font-weight="bold" text-anchor="middle">0</text>
<text transform="translate(128.05 511.7) scale(0.95 1)" font-size="6.8" font-weight="bold" text-anchor="middle">2</text>
<text transform="translate(143.35 511.7) scale(0.95 1)" font-size="6.8" font-weight="bold" text-anchor="middle">4</text>
<text transform="translate(158.65 511.7) scale(0.95 1)" font-size="6.8" font-weight="bold" text-anchor="middle">6</text>
<text transform="translate(173.95 511.7) scale(0.95 1)" font-size="6.8" font-weight="bold" text-anchor="middle">8</text>
<text transform="translate(189.25 511.7) scale(0.95 1)" font-size="6.8" font-weight="bold" text-anchor="middle">10</text>
<text transform="translate(204.55 511.7) scale(0.95 1)" font-size="6.8" font-weight="bold" text-anchor="middle">12</text>
<text transform="translate(219.85 511.7) scale(0.95 1)" font-size="6.8" font-weight="bold" text-anchor="middle">16</text>
<text transform="translate(235.15 511.7) scale(0.95 1)" font-size="6.8" font-weight="bold" text-anchor="middle">20</text>
<text transform="translate(250.45 511.7) scale(0.95 1)" font-size="6.8" font-weight="bold" text-anchor="middle">24</text>
<text x="57.4" y="511.7" font-size="7.2" font-weight="bold" text-anchor="end">Time (hrs)</text>
<text x="81.75" y="521.8" font-size="7.0" font-weight="bold" text-anchor="middle">40S</text>
<text transform="translate(97.45 521.8) scale(0.95 1)" font-size="6.8" font-weight="bold" text-anchor="middle">0</text>
<text transform="translate(112.75 521.8) scale(0.95 1)" font-size="6.8" font-weight="bold" text-anchor="middle">0</text>
<text transform="translate(128.05 521.8) scale(0.95 1)" font-size="6.8" font-weight="bold" text-anchor="middle">0</text>
<text transform="translate(143.35 521.8) scale(0.95 1)" font-size="6.8" font-weight="bold" text-anchor="middle">0</text>
<text transform="translate(158.65 521.8) scale(0.95 1)" font-size="6.8" font-weight="bold" text-anchor="middle">0</text>
<text transform="translate(173.95 521.8) scale(0.95 1)" font-size="6.8" font-weight="bold" text-anchor="middle">0</text>
<text transform="translate(189.25 521.8) scale(0.95 1)" font-size="6.8" font-weight="bold" text-anchor="middle">0</text>
<text transform="translate(204.55 521.8) scale(0.95 1)" font-size="6.8" font-weight="bold" text-anchor="middle">0</text>
<text transform="translate(219.85 521.8) scale(0.95 1)" font-size="6.8" font-weight="bold" text-anchor="middle">0</text>
<text transform="translate(235.15 521.8) scale(0.95 1)" font-size="6.8" font-weight="bold" text-anchor="middle">0</text>
<text transform="translate(250.45 521.8) scale(0.95 1)" font-size="6.8" font-weight="bold" text-anchor="middle">0</text>
<text x="57.4" y="521.8" font-size="7.2" font-weight="bold" text-anchor="end">BMP-4+ALK1/Fc</text>
<text x="81.75" y="532.2" font-size="7.0" font-weight="bold" text-anchor="middle">0S</text>
<text transform="translate(97.45 532.2) scale(0.95 1)" font-size="6.8" font-weight="bold" text-anchor="middle">0</text>
<text transform="translate(112.75 532.2) scale(0.95 1)" font-size="6.8" font-weight="bold" text-anchor="middle">10</text>
<text transform="translate(128.05 532.2) scale(0.95 1)" font-size="6.8" font-weight="bold" text-anchor="middle">10</text>
<text transform="translate(143.35 532.2) scale(0.95 1)" font-size="6.8" font-weight="bold" text-anchor="middle">10</text>
<text transform="translate(158.65 532.2) scale(0.95 1)" font-size="6.8" font-weight="bold" text-anchor="middle">10</text>
<text transform="translate(173.95 532.2) scale(0.95 1)" font-size="6.8" font-weight="bold" text-anchor="middle">10</text>
<text transform="translate(189.25 532.2) scale(0.95 1)" font-size="6.8" font-weight="bold" text-anchor="middle">10</text>
<text transform="translate(204.55 532.2) scale(0.95 1)" font-size="6.8" font-weight="bold" text-anchor="middle">10</text>
<text transform="translate(219.85 532.2) scale(0.95 1)" font-size="6.8" font-weight="bold" text-anchor="middle">10</text>
<text transform="translate(235.15 532.2) scale(0.95 1)" font-size="6.8" font-weight="bold" text-anchor="middle">10</text>
<text transform="translate(250.45 532.2) scale(0.95 1)" font-size="6.8" font-weight="bold" text-anchor="middle">10</text>
<text x="57.4" y="532.2" font-size="7.2" font-weight="bold" text-anchor="end">BMP-9</text>
<text x="179.4" y="374.8" font-size="10.15" font-weight="normal" text-anchor="start">BMP-9 + BMP-4</text>
<line x1="97.45" y1="368.4" x2="97.45" y2="390.42" stroke="#888" stroke-width="0.8"/>
<line x1="96.45" y1="368.4" x2="98.45" y2="368.4" stroke="#888" stroke-width="0.8"/>
<line x1="96.45" y1="390.42" x2="98.45" y2="390.42" stroke="#888" stroke-width="0.8"/>
<line x1="112.75" y1="376.11" x2="112.75" y2="384.91" stroke="#888" stroke-width="0.8"/>
<line x1="111.75" y1="376.11" x2="113.75" y2="376.11" stroke="#888" stroke-width="0.8"/>
<line x1="111.75" y1="384.91" x2="113.75" y2="384.91" stroke="#888" stroke-width="0.8"/>
<line x1="128.05" y1="406.71" x2="128.05" y2="419.92" stroke="#888" stroke-width="0.8"/>
<line x1="127.05" y1="406.71" x2="129.05" y2="406.71" stroke="#888" stroke-width="0.8"/>
<line x1="127.05" y1="419.92" x2="129.05" y2="419.92" stroke="#888" stroke-width="0.8"/>
<line x1="143.35" y1="445.46" x2="143.35" y2="454.26" stroke="#888" stroke-width="0.8"/>
<line x1="142.35" y1="445.46" x2="144.35" y2="445.46" stroke="#888" stroke-width="0.8"/>
<line x1="142.35" y1="454.26" x2="144.35" y2="454.26" stroke="#888" stroke-width="0.8"/>
<line x1="158.65" y1="456.91" x2="158.65" y2="465.71" stroke="#888" stroke-width="0.8"/>
<line x1="157.65" y1="456.91" x2="159.65" y2="456.91" stroke="#888" stroke-width="0.8"/>
<line x1="157.65" y1="465.71" x2="159.65" y2="465.71" stroke="#888" stroke-width="0.8"/>
<line x1="173.95" y1="457.57" x2="173.95" y2="464.17" stroke="#888" stroke-width="0.8"/>
<line x1="172.95" y1="457.57" x2="174.95" y2="457.57" stroke="#888" stroke-width="0.8"/>
<line x1="172.95" y1="464.17" x2="174.95" y2="464.17" stroke="#888" stroke-width="0.8"/>
<line x1="189.25" y1="467.48" x2="189.25" y2="471.88" stroke="#888" stroke-width="0.8"/>
<line x1="188.25" y1="467.48" x2="190.25" y2="467.48" stroke="#888" stroke-width="0.8"/>
<line x1="188.25" y1="471.88" x2="190.25" y2="471.88" stroke="#888" stroke-width="0.8"/>
<line x1="204.55" y1="468.14" x2="204.55" y2="474.74" stroke="#888" stroke-width="0.8"/>
<line x1="203.55" y1="468.14" x2="205.55" y2="468.14" stroke="#888" stroke-width="0.8"/>
<line x1="203.55" y1="474.74" x2="205.55" y2="474.74" stroke="#888" stroke-width="0.8"/>
<line x1="219.85" y1="474.08" x2="219.85" y2="478.48" stroke="#888" stroke-width="0.8"/>
<line x1="218.85" y1="474.08" x2="220.85" y2="474.08" stroke="#888" stroke-width="0.8"/>
<line x1="218.85" y1="478.48" x2="220.85" y2="478.48" stroke="#888" stroke-width="0.8"/>
<line x1="235.15" y1="476.94" x2="235.15" y2="481.35" stroke="#888" stroke-width="0.8"/>
<line x1="234.15" y1="476.94" x2="236.15" y2="476.94" stroke="#888" stroke-width="0.8"/>
<line x1="234.15" y1="481.35" x2="236.15" y2="481.35" stroke="#888" stroke-width="0.8"/>
<line x1="250.45" y1="475.4" x2="250.45" y2="479.8" stroke="#888" stroke-width="0.8"/>
<line x1="249.45" y1="475.4" x2="251.45" y2="475.4" stroke="#888" stroke-width="0.8"/>
<line x1="249.45" y1="479.8" x2="251.45" y2="479.8" stroke="#888" stroke-width="0.8"/>
<line x1="97.45" y1="474.08" x2="97.45" y2="478.48" stroke="#888" stroke-width="0.8"/>
<line x1="96.45" y1="474.08" x2="98.45" y2="474.08" stroke="#888" stroke-width="0.8"/>
<line x1="96.45" y1="478.48" x2="98.45" y2="478.48" stroke="#888" stroke-width="0.8"/>
<line x1="112.75" y1="475.18" x2="112.75" y2="479.58" stroke="#888" stroke-width="0.8"/>
<line x1="111.75" y1="475.18" x2="113.75" y2="475.18" stroke="#888" stroke-width="0.8"/>
<line x1="111.75" y1="479.58" x2="113.75" y2="479.58" stroke="#888" stroke-width="0.8"/>
<line x1="128.05" y1="471.44" x2="128.05" y2="475.84" stroke="#888" stroke-width="0.8"/>
<line x1="127.05" y1="471.44" x2="129.05" y2="471.44" stroke="#888" stroke-width="0.8"/>
<line x1="127.05" y1="475.84" x2="129.05" y2="475.84" stroke="#888" stroke-width="0.8"/>
<line x1="143.35" y1="455.15" x2="143.35" y2="468.36" stroke="#888" stroke-width="0.8"/>
<line x1="142.35" y1="455.15" x2="144.35" y2="455.15" stroke="#888" stroke-width="0.8"/>
<line x1="142.35" y1="468.36" x2="144.35" y2="468.36" stroke="#888" stroke-width="0.8"/>
<line x1="158.65" y1="445.9" x2="158.65" y2="454.71" stroke="#888" stroke-width="0.8"/>
<line x1="157.65" y1="445.9" x2="159.65" y2="445.9" stroke="#888" stroke-width="0.8"/>
<line x1="157.65" y1="454.71" x2="159.65" y2="454.71" stroke="#888" stroke-width="0.8"/>
<line x1="173.95" y1="422.78" x2="173.95" y2="444.8" stroke="#888" stroke-width="0.8"/>
<line x1="172.95" y1="422.78" x2="174.95" y2="422.78" stroke="#888" stroke-width="0.8"/>
<line x1="172.95" y1="444.8" x2="174.95" y2="444.8" stroke="#888" stroke-width="0.8"/>
<line x1="189.25" y1="411.77" x2="189.25" y2="429.39" stroke="#888" stroke-width="0.8"/>
<line x1="188.25" y1="411.77" x2="190.25" y2="411.77" stroke="#888" stroke-width="0.8"/>
<line x1="188.25" y1="429.39" x2="190.25" y2="429.39" stroke="#888" stroke-width="0.8"/>
<line x1="204.55" y1="419.48" x2="204.55" y2="445.9" stroke="#888" stroke-width="0.8"/>
<line x1="203.55" y1="419.48" x2="205.55" y2="419.48" stroke="#888" stroke-width="0.8"/>
<line x1="203.55" y1="445.9" x2="205.55" y2="445.9" stroke="#888" stroke-width="0.8"/>
<line x1="219.85" y1="443.04" x2="219.85" y2="451.84" stroke="#888" stroke-width="0.8"/>
<line x1="218.85" y1="443.04" x2="220.85" y2="443.04" stroke="#888" stroke-width="0.8"/>
<line x1="218.85" y1="451.84" x2="220.85" y2="451.84" stroke="#888" stroke-width="0.8"/>
<line x1="235.15" y1="457.57" x2="235.15" y2="464.17" stroke="#888" stroke-width="0.8"/>
<line x1="234.15" y1="457.57" x2="236.15" y2="457.57" stroke="#888" stroke-width="0.8"/>
<line x1="234.15" y1="464.17" x2="236.15" y2="464.17" stroke="#888" stroke-width="0.8"/>
<line x1="250.45" y1="466.15" x2="250.45" y2="470.56" stroke="#888" stroke-width="0.8"/>
<line x1="249.45" y1="466.15" x2="251.45" y2="466.15" stroke="#888" stroke-width="0.8"/>
<line x1="249.45" y1="470.56" x2="251.45" y2="470.56" stroke="#888" stroke-width="0.8"/>
<line x1="97.45" y1="427.84" x2="97.45" y2="436.65" stroke="#888" stroke-width="0.8"/>
<line x1="96.45" y1="427.84" x2="98.45" y2="427.84" stroke="#888" stroke-width="0.8"/>
<line x1="96.45" y1="436.65" x2="98.45" y2="436.65" stroke="#888" stroke-width="0.8"/>
<line x1="112.75" y1="428.29" x2="112.75" y2="434.89" stroke="#888" stroke-width="0.8"/>
<line x1="111.75" y1="428.29" x2="113.75" y2="428.29" stroke="#888" stroke-width="0.8"/>
<line x1="111.75" y1="434.89" x2="113.75" y2="434.89" stroke="#888" stroke-width="0.8"/>
<line x1="128.05" y1="421.46" x2="128.05" y2="428.07" stroke="#888" stroke-width="0.8"/>
<line x1="127.05" y1="421.46" x2="129.05" y2="421.46" stroke="#888" stroke-width="0.8"/>
<line x1="127.05" y1="428.07" x2="129.05" y2="428.07" stroke="#888" stroke-width="0.8"/>
<line x1="143.35" y1="444.36" x2="143.35" y2="453.16" stroke="#888" stroke-width="0.8"/>
<line x1="142.35" y1="444.36" x2="144.35" y2="444.36" stroke="#888" stroke-width="0.8"/>
<line x1="142.35" y1="453.16" x2="144.35" y2="453.16" stroke="#888" stroke-width="0.8"/>
<line x1="158.65" y1="464.83" x2="158.65" y2="469.24" stroke="#888" stroke-width="0.8"/>
<line x1="157.65" y1="464.83" x2="159.65" y2="464.83" stroke="#888" stroke-width="0.8"/>
<line x1="157.65" y1="469.24" x2="159.65" y2="469.24" stroke="#888" stroke-width="0.8"/>
<line x1="173.95" y1="468.36" x2="173.95" y2="472.76" stroke="#888" stroke-width="0.8"/>
<line x1="172.95" y1="468.36" x2="174.95" y2="468.36" stroke="#888" stroke-width="0.8"/>
<line x1="172.95" y1="472.76" x2="174.95" y2="472.76" stroke="#888" stroke-width="0.8"/>
<line x1="189.25" y1="467.7" x2="189.25" y2="472.1" stroke="#888" stroke-width="0.8"/>
<line x1="188.25" y1="467.7" x2="190.25" y2="467.7" stroke="#888" stroke-width="0.8"/>
<line x1="188.25" y1="472.1" x2="190.25" y2="472.1" stroke="#888" stroke-width="0.8"/>
<line x1="204.55" y1="473.42" x2="204.55" y2="477.82" stroke="#888" stroke-width="0.8"/>
<line x1="203.55" y1="473.42" x2="205.55" y2="473.42" stroke="#888" stroke-width="0.8"/>
<line x1="203.55" y1="477.82" x2="205.55" y2="477.82" stroke="#888" stroke-width="0.8"/>
<line x1="219.85" y1="472.32" x2="219.85" y2="476.72" stroke="#888" stroke-width="0.8"/>
<line x1="218.85" y1="472.32" x2="220.85" y2="472.32" stroke="#888" stroke-width="0.8"/>
<line x1="218.85" y1="476.72" x2="220.85" y2="476.72" stroke="#888" stroke-width="0.8"/>
<line x1="235.15" y1="477.38" x2="235.15" y2="481.79" stroke="#888" stroke-width="0.8"/>
<line x1="234.15" y1="477.38" x2="236.15" y2="477.38" stroke="#888" stroke-width="0.8"/>
<line x1="234.15" y1="481.79" x2="236.15" y2="481.79" stroke="#888" stroke-width="0.8"/>
<line x1="250.45" y1="478.26" x2="250.45" y2="482.67" stroke="#888" stroke-width="0.8"/>
<line x1="249.45" y1="478.26" x2="251.45" y2="478.26" stroke="#888" stroke-width="0.8"/>
<line x1="249.45" y1="482.67" x2="251.45" y2="482.67" stroke="#888" stroke-width="0.8"/>
<line x1="97.45" y1="472.76" x2="97.45" y2="477.16" stroke="#888" stroke-width="0.8"/>
<line x1="96.45" y1="472.76" x2="98.45" y2="472.76" stroke="#888" stroke-width="0.8"/>
<line x1="96.45" y1="477.16" x2="98.45" y2="477.16" stroke="#888" stroke-width="0.8"/>
<line x1="112.75" y1="469.9" x2="112.75" y2="474.3" stroke="#888" stroke-width="0.8"/>
<line x1="111.75" y1="469.9" x2="113.75" y2="469.9" stroke="#888" stroke-width="0.8"/>
<line x1="111.75" y1="474.3" x2="113.75" y2="474.3" stroke="#888" stroke-width="0.8"/>
<line x1="128.05" y1="468.36" x2="128.05" y2="472.76" stroke="#888" stroke-width="0.8"/>
<line x1="127.05" y1="468.36" x2="129.05" y2="468.36" stroke="#888" stroke-width="0.8"/>
<line x1="127.05" y1="472.76" x2="129.05" y2="472.76" stroke="#888" stroke-width="0.8"/>
<line x1="143.35" y1="455.15" x2="143.35" y2="468.36" stroke="#888" stroke-width="0.8"/>
<line x1="142.35" y1="455.15" x2="144.35" y2="455.15" stroke="#888" stroke-width="0.8"/>
<line x1="142.35" y1="468.36" x2="144.35" y2="468.36" stroke="#888" stroke-width="0.8"/>
<line x1="158.65" y1="459.33" x2="158.65" y2="463.73" stroke="#888" stroke-width="0.8"/>
<line x1="157.65" y1="459.33" x2="159.65" y2="459.33" stroke="#888" stroke-width="0.8"/>
<line x1="157.65" y1="463.73" x2="159.65" y2="463.73" stroke="#888" stroke-width="0.8"/>
<line x1="173.95" y1="453.38" x2="173.95" y2="457.79" stroke="#888" stroke-width="0.8"/>
<line x1="172.95" y1="453.38" x2="174.95" y2="453.38" stroke="#888" stroke-width="0.8"/>
<line x1="172.95" y1="457.79" x2="174.95" y2="457.79" stroke="#888" stroke-width="0.8"/>
<line x1="189.25" y1="437.97" x2="189.25" y2="442.38" stroke="#888" stroke-width="0.8"/>
<line x1="188.25" y1="437.97" x2="190.25" y2="437.97" stroke="#888" stroke-width="0.8"/>
<line x1="188.25" y1="442.38" x2="190.25" y2="442.38" stroke="#888" stroke-width="0.8"/>
<line x1="204.55" y1="402.31" x2="204.55" y2="419.92" stroke="#888" stroke-width="0.8"/>
<line x1="203.55" y1="402.31" x2="205.55" y2="402.31" stroke="#888" stroke-width="0.8"/>
<line x1="203.55" y1="419.92" x2="205.55" y2="419.92" stroke="#888" stroke-width="0.8"/>
<line x1="219.85" y1="417.5" x2="219.85" y2="435.11" stroke="#888" stroke-width="0.8"/>
<line x1="218.85" y1="417.5" x2="220.85" y2="417.5" stroke="#888" stroke-width="0.8"/>
<line x1="218.85" y1="435.11" x2="220.85" y2="435.11" stroke="#888" stroke-width="0.8"/>
<line x1="235.15" y1="446.12" x2="235.15" y2="450.52" stroke="#888" stroke-width="0.8"/>
<line x1="234.15" y1="446.12" x2="236.15" y2="446.12" stroke="#888" stroke-width="0.8"/>
<line x1="234.15" y1="450.52" x2="236.15" y2="450.52" stroke="#888" stroke-width="0.8"/>
<line x1="250.45" y1="468.36" x2="250.45" y2="472.76" stroke="#888" stroke-width="0.8"/>
<line x1="249.45" y1="468.36" x2="251.45" y2="468.36" stroke="#888" stroke-width="0.8"/>
<line x1="249.45" y1="472.76" x2="251.45" y2="472.76" stroke="#888" stroke-width="0.8"/>
<path d="M82.15 478.48L97.45 379.41L112.75 380.51L128.05 413.31L143.35 449.86L158.65 461.31L173.95 460.87L189.25 469.68L204.55 471.44L219.85 476.28L235.15 479.14L250.45 477.6" fill="none" stroke="#000" stroke-width="1.2" stroke-linejoin="round"/>
<path d="M82.15 478.48L97.45 476.28L112.75 477.38L128.05 473.64L143.35 461.75L158.65 450.3L173.95 433.79L189.25 420.58L204.55 432.69L219.85 447.44L235.15 460.87L250.45 468.36" fill="none" stroke="#000" stroke-width="1.2" stroke-linejoin="round"/>
<path d="M82.15 478.48L97.45 432.25L112.75 431.59L128.05 424.76L143.35 448.76L158.65 467.03L173.95 470.56L189.25 469.9L204.55 475.62L219.85 474.52L235.15 479.58L250.45 480.46" fill="none" stroke="#000" stroke-width="1.2" stroke-linejoin="round"/>
<path d="M82.15 478.48L97.45 474.96L112.75 472.1L128.05 470.56L143.35 461.75L158.65 461.53L173.95 455.59L189.25 440.17L204.55 411.11L219.85 426.3L235.15 448.32L250.45 470.56" fill="none" stroke="#000" stroke-width="1.2" stroke-linejoin="round"/>
<circle cx="82.15" cy="478.48" r="1.9" fill="#fff" stroke="#000" stroke-width="0.8"/>
<circle cx="97.45" cy="379.41" r="1.9" fill="#fff" stroke="#000" stroke-width="0.8"/>
<circle cx="112.75" cy="380.51" r="1.9" fill="#fff" stroke="#000" stroke-width="0.8"/>
<circle cx="128.05" cy="413.31" r="1.9" fill="#fff" stroke="#000" stroke-width="0.8"/>
<circle cx="143.35" cy="449.86" r="1.9" fill="#fff" stroke="#000" stroke-width="0.8"/>
<circle cx="158.65" cy="461.31" r="1.9" fill="#fff" stroke="#000" stroke-width="0.8"/>
<circle cx="173.95" cy="460.87" r="1.9" fill="#fff" stroke="#000" stroke-width="0.8"/>
<circle cx="189.25" cy="469.68" r="1.9" fill="#fff" stroke="#000" stroke-width="0.8"/>
<circle cx="204.55" cy="471.44" r="1.9" fill="#fff" stroke="#000" stroke-width="0.8"/>
<circle cx="219.85" cy="476.28" r="1.9" fill="#fff" stroke="#000" stroke-width="0.8"/>
<circle cx="235.15" cy="479.14" r="1.9" fill="#fff" stroke="#000" stroke-width="0.8"/>
<circle cx="250.45" cy="477.6" r="1.9" fill="#fff" stroke="#000" stroke-width="0.8"/>
<path d="M82.15 476.18L84.45 478.48L82.15 480.78L79.85 478.48Z" fill="#fff" stroke="#000" stroke-width="0.8"/>
<path d="M97.45 473.98L99.75 476.28L97.45 478.58L95.15 476.28Z" fill="#fff" stroke="#000" stroke-width="0.8"/>
<path d="M112.75 475.08L115.05 477.38L112.75 479.68L110.45 477.38Z" fill="#fff" stroke="#000" stroke-width="0.8"/>
<path d="M128.05 471.34L130.35 473.64L128.05 475.94L125.75 473.64Z" fill="#fff" stroke="#000" stroke-width="0.8"/>
<path d="M143.35 459.45L145.65 461.75L143.35 464.05L141.05 461.75Z" fill="#fff" stroke="#000" stroke-width="0.8"/>
<path d="M158.65 448L160.95 450.3L158.65 452.6L156.35 450.3Z" fill="#fff" stroke="#000" stroke-width="0.8"/>
<path d="M173.95 431.49L176.25 433.79L173.95 436.09L171.65 433.79Z" fill="#fff" stroke="#000" stroke-width="0.8"/>
<path d="M189.25 418.28L191.55 420.58L189.25 422.88L186.95 420.58Z" fill="#fff" stroke="#000" stroke-width="0.8"/>
<path d="M204.55 430.39L206.85 432.69L204.55 434.99L202.25 432.69Z" fill="#fff" stroke="#000" stroke-width="0.8"/>
<path d="M219.85 445.14L222.15 447.44L219.85 449.74L217.55 447.44Z" fill="#fff" stroke="#000" stroke-width="0.8"/>
<path d="M235.15 458.57L237.45 460.87L235.15 463.17L232.85 460.87Z" fill="#fff" stroke="#000" stroke-width="0.8"/>
<path d="M250.45 466.06L252.75 468.36L250.45 470.66L248.15 468.36Z" fill="#fff" stroke="#000" stroke-width="0.8"/>
<path d="M82.15 476.08L84.55 480.28L79.75 480.28Z" fill="#000"/>
<path d="M97.45 429.85L99.85 434.05L95.05 434.05Z" fill="#000"/>
<path d="M112.75 429.19L115.15 433.39L110.35 433.39Z" fill="#000"/>
<path d="M128.05 422.36L130.45 426.56L125.65 426.56Z" fill="#000"/>
<path d="M143.35 446.36L145.75 450.56L140.95 450.56Z" fill="#000"/>
<path d="M158.65 464.63L161.05 468.83L156.25 468.83Z" fill="#000"/>
<path d="M173.95 468.16L176.35 472.36L171.55 472.36Z" fill="#000"/>
<path d="M189.25 467.5L191.65 471.7L186.85 471.7Z" fill="#000"/>
<path d="M204.55 473.22L206.95 477.42L202.15 477.42Z" fill="#000"/>
<path d="M219.85 472.12L222.25 476.32L217.45 476.32Z" fill="#000"/>
<path d="M235.15 477.18L237.55 481.38L232.75 481.38Z" fill="#000"/>
<path d="M250.45 478.06L252.85 482.26L248.05 482.26Z" fill="#000"/>
<rect x="80.35" y="476.68" width="3.6" height="3.6" fill="#000"/>
<rect x="95.65" y="473.16" width="3.6" height="3.6" fill="#000"/>
<rect x="110.95" y="470.3" width="3.6" height="3.6" fill="#000"/>
<rect x="126.25" y="468.76" width="3.6" height="3.6" fill="#000"/>
<rect x="141.55" y="459.95" width="3.6" height="3.6" fill="#000"/>
<rect x="156.85" y="459.73" width="3.6" height="3.6" fill="#000"/>
<rect x="172.15" y="453.79" width="3.6" height="3.6" fill="#000"/>
<rect x="187.45" y="438.37" width="3.6" height="3.6" fill="#000"/>
<rect x="202.75" y="409.31" width="3.6" height="3.6" fill="#000"/>
<rect x="218.05" y="424.5" width="3.6" height="3.6" fill="#000"/>
<rect x="233.35" y="446.52" width="3.6" height="3.6" fill="#000"/>
<rect x="248.65" y="468.76" width="3.6" height="3.6" fill="#000"/>
<circle cx="82.15" cy="478.48" r="2.4" fill="#000"/>
<text x="107.7" y="372.5" font-size="6.9" font-weight="bold" text-anchor="start">ALK1</text>
<text x="107.7" y="421.2" font-size="6.9" font-weight="bold" text-anchor="start">MGP</text>
<text x="165.9" y="414.6" font-size="6.9" font-weight="bold" text-anchor="start">ALK5</text>
<text x="211.5" y="408" font-size="6.9" font-weight="bold" text-anchor="start">VEGF</text>
<line x1="334.7" y1="367.9" x2="334.7" y2="534.6" stroke="#888" stroke-width="1.2"/>
<line x1="350" y1="367.9" x2="350" y2="534.6" stroke="#111" stroke-width="1.4"/>
<line x1="365.3" y1="367.9" x2="365.3" y2="534.6" stroke="#888" stroke-width="1.2"/>
<line x1="319.4" y1="367.9" x2="319.4" y2="534.6" stroke="#333" stroke-width="1.0"/>
<line x1="317.2" y1="500.5" x2="319.4" y2="500.5" stroke="#111" stroke-width="0.9"/>
<text x="313.8" y="502.8" font-size="6.5" font-weight="bold" text-anchor="end">0</text>
<line x1="317.2" y1="478.48" x2="319.4" y2="478.48" stroke="#111" stroke-width="0.9"/>
<text x="313.8" y="480.78" font-size="6.5" font-weight="bold" text-anchor="end">1</text>
<line x1="317.2" y1="456.47" x2="319.4" y2="456.47" stroke="#111" stroke-width="0.9"/>
<text x="313.8" y="458.77" font-size="6.5" font-weight="bold" text-anchor="end">2</text>
<line x1="317.2" y1="434.45" x2="319.4" y2="434.45" stroke="#111" stroke-width="0.9"/>
<text x="313.8" y="436.75" font-size="6.5" font-weight="bold" text-anchor="end">3</text>
<line x1="317.2" y1="412.43" x2="319.4" y2="412.43" stroke="#111" stroke-width="0.9"/>
<text x="313.8" y="414.73" font-size="6.5" font-weight="bold" text-anchor="end">4</text>
<line x1="317.2" y1="390.42" x2="319.4" y2="390.42" stroke="#111" stroke-width="0.9"/>
<text x="313.8" y="392.72" font-size="6.5" font-weight="bold" text-anchor="end">5</text>
<line x1="317.2" y1="368.4" x2="319.4" y2="368.4" stroke="#111" stroke-width="0.9"/>
<text x="313.8" y="370.7" font-size="6.5" font-weight="bold" text-anchor="end">6</text>
<text x="0" y="0" font-size="7.4" font-weight="bold" text-anchor="middle" transform="translate(306.5 433.55) rotate(-90) scale(1.14 1)">Relative RNA Expression (fold)</text>
<line x1="318.9" y1="500.4" x2="518.3" y2="500.4" stroke="#222" stroke-width="1.0"/>
<line x1="319.4" y1="514.1" x2="518.3" y2="514.1" stroke="#555" stroke-width="1.0"/>
<line x1="319.4" y1="524.2" x2="518.3" y2="524.2" stroke="#555" stroke-width="1.0"/>
<line x1="319.4" y1="534.6" x2="518.3" y2="534.6" stroke="#555" stroke-width="1.0"/>
<line x1="334.7" y1="500.4" x2="334.7" y2="534.6" stroke="#666" stroke-width="1.0"/>
<line x1="350" y1="500.4" x2="350" y2="534.6" stroke="#666" stroke-width="1.0"/>
<line x1="365.3" y1="500.4" x2="365.3" y2="534.6" stroke="#666" stroke-width="1.0"/>
<line x1="380.6" y1="500.4" x2="380.6" y2="534.6" stroke="#666" stroke-width="1.0"/>
<line x1="395.9" y1="500.4" x2="395.9" y2="534.6" stroke="#666" stroke-width="1.0"/>
<line x1="411.2" y1="500.4" x2="411.2" y2="534.6" stroke="#666" stroke-width="1.0"/>
<line x1="426.5" y1="500.4" x2="426.5" y2="534.6" stroke="#666" stroke-width="1.0"/>
<line x1="441.8" y1="500.4" x2="441.8" y2="534.6" stroke="#666" stroke-width="1.0"/>
<line x1="457.1" y1="500.4" x2="457.1" y2="534.6" stroke="#666" stroke-width="1.0"/>
<line x1="472.4" y1="500.4" x2="472.4" y2="534.6" stroke="#666" stroke-width="1.0"/>
<line x1="487.7" y1="500.4" x2="487.7" y2="534.6" stroke="#666" stroke-width="1.0"/>
<line x1="503" y1="500.4" x2="503" y2="534.6" stroke="#666" stroke-width="1.0"/>
<line x1="518.3" y1="500.4" x2="518.3" y2="534.6" stroke="#666" stroke-width="1.0"/>
<text x="326.65" y="511.7" font-size="7.0" font-weight="bold" text-anchor="middle">-12S</text>
<text transform="translate(342.35 511.7) scale(0.95 1)" font-size="6.8" font-weight="bold" text-anchor="middle">-12</text>
<text transform="translate(357.65 511.7) scale(0.95 1)" font-size="6.8" font-weight="bold" text-anchor="middle">0</text>
<text transform="translate(372.95 511.7) scale(0.95 1)" font-size="6.8" font-weight="bold" text-anchor="middle">0</text>
<text transform="translate(388.25 511.7) scale(0.95 1)" font-size="6.8" font-weight="bold" text-anchor="middle">2</text>
<text transform="translate(403.55 511.7) scale(0.95 1)" font-size="6.8" font-weight="bold" text-anchor="middle">4</text>
<text transform="translate(418.85 511.7) scale(0.95 1)" font-size="6.8" font-weight="bold" text-anchor="middle">6</text>
<text transform="translate(434.15 511.7) scale(0.95 1)" font-size="6.8" font-weight="bold" text-anchor="middle">8</text>
<text transform="translate(449.45 511.7) scale(0.95 1)" font-size="6.8" font-weight="bold" text-anchor="middle">10</text>
<text transform="translate(464.75 511.7) scale(0.95 1)" font-size="6.8" font-weight="bold" text-anchor="middle">12</text>
<text transform="translate(480.05 511.7) scale(0.95 1)" font-size="6.8" font-weight="bold" text-anchor="middle">16</text>
<text transform="translate(495.35 511.7) scale(0.95 1)" font-size="6.8" font-weight="bold" text-anchor="middle">20</text>
<text transform="translate(510.65 511.7) scale(0.95 1)" font-size="6.8" font-weight="bold" text-anchor="middle">24</text>
<text x="317.6" y="511.7" font-size="7.2" font-weight="bold" text-anchor="end">Time (hrs)</text>
<text x="326.65" y="521.8" font-size="7.0" font-weight="bold" text-anchor="middle">40S</text>
<text transform="translate(342.35 521.8) scale(0.95 1)" font-size="6.8" font-weight="bold" text-anchor="middle">40</text>
<text transform="translate(357.65 521.8) scale(0.95 1)" font-size="6.8" font-weight="bold" text-anchor="middle">0</text>
<text transform="translate(372.95 521.8) scale(0.95 1)" font-size="6.8" font-weight="bold" text-anchor="middle">0</text>
<text transform="translate(388.25 521.8) scale(0.95 1)" font-size="6.8" font-weight="bold" text-anchor="middle">0</text>
<text transform="translate(403.55 521.8) scale(0.95 1)" font-size="6.8" font-weight="bold" text-anchor="middle">0</text>
<text transform="translate(418.85 521.8) scale(0.95 1)" font-size="6.8" font-weight="bold" text-anchor="middle">0</text>
<text transform="translate(434.15 521.8) scale(0.95 1)" font-size="6.8" font-weight="bold" text-anchor="middle">0</text>
<text transform="translate(449.45 521.8) scale(0.95 1)" font-size="6.8" font-weight="bold" text-anchor="middle">0</text>
<text transform="translate(464.75 521.8) scale(0.95 1)" font-size="6.8" font-weight="bold" text-anchor="middle">0</text>
<text transform="translate(480.05 521.8) scale(0.95 1)" font-size="6.8" font-weight="bold" text-anchor="middle">0</text>
<text transform="translate(495.35 521.8) scale(0.95 1)" font-size="6.8" font-weight="bold" text-anchor="middle">0</text>
<text transform="translate(510.65 521.8) scale(0.95 1)" font-size="6.8" font-weight="bold" text-anchor="middle">0</text>
<text x="317.6" y="521.8" font-size="7.2" font-weight="bold" text-anchor="end">BMP-4/ALK1/Fc</text>
<text x="326.65" y="532.2" font-size="7.0" font-weight="bold" text-anchor="middle">0S</text>
<text transform="translate(342.35 532.2) scale(0.95 1)" font-size="6.8" font-weight="bold" text-anchor="middle">0</text>
<text transform="translate(357.65 532.2) scale(0.95 1)" font-size="6.8" font-weight="bold" text-anchor="middle">0</text>
<text transform="translate(372.95 532.2) scale(0.95 1)" font-size="6.8" font-weight="bold" text-anchor="middle">10</text>
<text transform="translate(388.25 532.2) scale(0.95 1)" font-size="6.8" font-weight="bold" text-anchor="middle">10</text>
<text transform="translate(403.55 532.2) scale(0.95 1)" font-size="6.8" font-weight="bold" text-anchor="middle">10</text>
<text transform="translate(418.85 532.2) scale(0.95 1)" font-size="6.8" font-weight="bold" text-anchor="middle">10</text>
<text transform="translate(434.15 532.2) scale(0.95 1)" font-size="6.8" font-weight="bold" text-anchor="middle">10</text>
<text transform="translate(449.45 532.2) scale(0.95 1)" font-size="6.8" font-weight="bold" text-anchor="middle">10</text>
<text transform="translate(464.75 532.2) scale(0.95 1)" font-size="6.8" font-weight="bold" text-anchor="middle">10</text>
<text transform="translate(480.05 532.2) scale(0.95 1)" font-size="6.8" font-weight="bold" text-anchor="middle">10</text>
<text transform="translate(495.35 532.2) scale(0.95 1)" font-size="6.8" font-weight="bold" text-anchor="middle">10</text>
<text transform="translate(510.65 532.2) scale(0.95 1)" font-size="6.8" font-weight="bold" text-anchor="middle">10</text>
<text x="317.6" y="532.2" font-size="7.2" font-weight="bold" text-anchor="end">BMP-9</text>
<text x="438.7" y="374.8" font-size="10.15" font-weight="normal" text-anchor="start">BMP-9 + BMP-4</text>
<text x="0" y="0" font-size="7.1" font-weight="bold" text-anchor="middle" transform="translate(330 413.2) rotate(-90)">scrambled</text>
<line x1="327.05" y1="476.72" x2="327.05" y2="480.24" stroke="#888" stroke-width="0.8"/>
<line x1="326.05" y1="476.72" x2="328.05" y2="476.72" stroke="#888" stroke-width="0.8"/>
<line x1="326.05" y1="480.24" x2="328.05" y2="480.24" stroke="#888" stroke-width="0.8"/>
<line x1="342.35" y1="495" x2="342.35" y2="498.52" stroke="#888" stroke-width="0.8"/>
<line x1="341.35" y1="495" x2="343.35" y2="495" stroke="#888" stroke-width="0.8"/>
<line x1="341.35" y1="498.52" x2="343.35" y2="498.52" stroke="#888" stroke-width="0.8"/>
<line x1="357.65" y1="494.78" x2="357.65" y2="498.3" stroke="#888" stroke-width="0.8"/>
<line x1="356.65" y1="494.78" x2="358.65" y2="494.78" stroke="#888" stroke-width="0.8"/>
<line x1="356.65" y1="498.3" x2="358.65" y2="498.3" stroke="#888" stroke-width="0.8"/>
<line x1="372.95" y1="494.56" x2="372.95" y2="498.08" stroke="#888" stroke-width="0.8"/>
<line x1="371.95" y1="494.56" x2="373.95" y2="494.56" stroke="#888" stroke-width="0.8"/>
<line x1="371.95" y1="498.08" x2="373.95" y2="498.08" stroke="#888" stroke-width="0.8"/>
<line x1="388.25" y1="494.56" x2="388.25" y2="498.08" stroke="#888" stroke-width="0.8"/>
<line x1="387.25" y1="494.56" x2="389.25" y2="494.56" stroke="#888" stroke-width="0.8"/>
<line x1="387.25" y1="498.08" x2="389.25" y2="498.08" stroke="#888" stroke-width="0.8"/>
<line x1="403.55" y1="494.56" x2="403.55" y2="498.08" stroke="#888" stroke-width="0.8"/>
<line x1="402.55" y1="494.56" x2="404.55" y2="494.56" stroke="#888" stroke-width="0.8"/>
<line x1="402.55" y1="498.08" x2="404.55" y2="498.08" stroke="#888" stroke-width="0.8"/>
<line x1="418.85" y1="494.56" x2="418.85" y2="498.08" stroke="#888" stroke-width="0.8"/>
<line x1="417.85" y1="494.56" x2="419.85" y2="494.56" stroke="#888" stroke-width="0.8"/>
<line x1="417.85" y1="498.08" x2="419.85" y2="498.08" stroke="#888" stroke-width="0.8"/>
<line x1="434.15" y1="494.56" x2="434.15" y2="498.08" stroke="#888" stroke-width="0.8"/>
<line x1="433.15" y1="494.56" x2="435.15" y2="494.56" stroke="#888" stroke-width="0.8"/>
<line x1="433.15" y1="498.08" x2="435.15" y2="498.08" stroke="#888" stroke-width="0.8"/>
<line x1="449.45" y1="494.56" x2="449.45" y2="498.08" stroke="#888" stroke-width="0.8"/>
<line x1="448.45" y1="494.56" x2="450.45" y2="494.56" stroke="#888" stroke-width="0.8"/>
<line x1="448.45" y1="498.08" x2="450.45" y2="498.08" stroke="#888" stroke-width="0.8"/>
<line x1="464.75" y1="494.56" x2="464.75" y2="498.08" stroke="#888" stroke-width="0.8"/>
<line x1="463.75" y1="494.56" x2="465.75" y2="494.56" stroke="#888" stroke-width="0.8"/>
<line x1="463.75" y1="498.08" x2="465.75" y2="498.08" stroke="#888" stroke-width="0.8"/>
<line x1="480.05" y1="494.56" x2="480.05" y2="498.08" stroke="#888" stroke-width="0.8"/>
<line x1="479.05" y1="494.56" x2="481.05" y2="494.56" stroke="#888" stroke-width="0.8"/>
<line x1="479.05" y1="498.08" x2="481.05" y2="498.08" stroke="#888" stroke-width="0.8"/>
<line x1="495.35" y1="494.56" x2="495.35" y2="498.08" stroke="#888" stroke-width="0.8"/>
<line x1="494.35" y1="494.56" x2="496.35" y2="494.56" stroke="#888" stroke-width="0.8"/>
<line x1="494.35" y1="498.08" x2="496.35" y2="498.08" stroke="#888" stroke-width="0.8"/>
<line x1="510.65" y1="494.56" x2="510.65" y2="498.08" stroke="#888" stroke-width="0.8"/>
<line x1="509.65" y1="494.56" x2="511.65" y2="494.56" stroke="#888" stroke-width="0.8"/>
<line x1="509.65" y1="498.08" x2="511.65" y2="498.08" stroke="#888" stroke-width="0.8"/>
<line x1="342.35" y1="476.28" x2="342.35" y2="480.69" stroke="#888" stroke-width="0.8"/>
<line x1="341.35" y1="476.28" x2="343.35" y2="476.28" stroke="#888" stroke-width="0.8"/>
<line x1="341.35" y1="480.69" x2="343.35" y2="480.69" stroke="#888" stroke-width="0.8"/>
<line x1="357.65" y1="471.88" x2="357.65" y2="477.16" stroke="#888" stroke-width="0.8"/>
<line x1="356.65" y1="471.88" x2="358.65" y2="471.88" stroke="#888" stroke-width="0.8"/>
<line x1="356.65" y1="477.16" x2="358.65" y2="477.16" stroke="#888" stroke-width="0.8"/>
<line x1="372.95" y1="478.04" x2="372.95" y2="482.45" stroke="#888" stroke-width="0.8"/>
<line x1="371.95" y1="478.04" x2="373.95" y2="478.04" stroke="#888" stroke-width="0.8"/>
<line x1="371.95" y1="482.45" x2="373.95" y2="482.45" stroke="#888" stroke-width="0.8"/>
<line x1="388.25" y1="474.08" x2="388.25" y2="478.48" stroke="#888" stroke-width="0.8"/>
<line x1="387.25" y1="474.08" x2="389.25" y2="474.08" stroke="#888" stroke-width="0.8"/>
<line x1="387.25" y1="478.48" x2="389.25" y2="478.48" stroke="#888" stroke-width="0.8"/>
<line x1="403.55" y1="479.8" x2="403.55" y2="484.21" stroke="#888" stroke-width="0.8"/>
<line x1="402.55" y1="479.8" x2="404.55" y2="479.8" stroke="#888" stroke-width="0.8"/>
<line x1="402.55" y1="484.21" x2="404.55" y2="484.21" stroke="#888" stroke-width="0.8"/>
<line x1="418.85" y1="474.96" x2="418.85" y2="479.36" stroke="#888" stroke-width="0.8"/>
<line x1="417.85" y1="474.96" x2="419.85" y2="474.96" stroke="#888" stroke-width="0.8"/>
<line x1="417.85" y1="479.36" x2="419.85" y2="479.36" stroke="#888" stroke-width="0.8"/>
<line x1="434.15" y1="474.52" x2="434.15" y2="478.92" stroke="#888" stroke-width="0.8"/>
<line x1="433.15" y1="474.52" x2="435.15" y2="474.52" stroke="#888" stroke-width="0.8"/>
<line x1="433.15" y1="478.92" x2="435.15" y2="478.92" stroke="#888" stroke-width="0.8"/>
<line x1="449.45" y1="474.08" x2="449.45" y2="478.48" stroke="#888" stroke-width="0.8"/>
<line x1="448.45" y1="474.08" x2="450.45" y2="474.08" stroke="#888" stroke-width="0.8"/>
<line x1="448.45" y1="478.48" x2="450.45" y2="478.48" stroke="#888" stroke-width="0.8"/>
<line x1="464.75" y1="476.94" x2="464.75" y2="481.35" stroke="#888" stroke-width="0.8"/>
<line x1="463.75" y1="476.94" x2="465.75" y2="476.94" stroke="#888" stroke-width="0.8"/>
<line x1="463.75" y1="481.35" x2="465.75" y2="481.35" stroke="#888" stroke-width="0.8"/>
<line x1="480.05" y1="475.62" x2="480.05" y2="480.02" stroke="#888" stroke-width="0.8"/>
<line x1="479.05" y1="475.62" x2="481.05" y2="475.62" stroke="#888" stroke-width="0.8"/>
<line x1="479.05" y1="480.02" x2="481.05" y2="480.02" stroke="#888" stroke-width="0.8"/>
<line x1="495.35" y1="474.08" x2="495.35" y2="478.48" stroke="#888" stroke-width="0.8"/>
<line x1="494.35" y1="474.08" x2="496.35" y2="474.08" stroke="#888" stroke-width="0.8"/>
<line x1="494.35" y1="478.48" x2="496.35" y2="478.48" stroke="#888" stroke-width="0.8"/>
<line x1="510.65" y1="474.96" x2="510.65" y2="479.36" stroke="#888" stroke-width="0.8"/>
<line x1="509.65" y1="474.96" x2="511.65" y2="474.96" stroke="#888" stroke-width="0.8"/>
<line x1="509.65" y1="479.36" x2="511.65" y2="479.36" stroke="#888" stroke-width="0.8"/>
<line x1="342.35" y1="474.74" x2="342.35" y2="481.35" stroke="#888" stroke-width="0.8"/>
<line x1="341.35" y1="474.74" x2="343.35" y2="474.74" stroke="#888" stroke-width="0.8"/>
<line x1="341.35" y1="481.35" x2="343.35" y2="481.35" stroke="#888" stroke-width="0.8"/>
<line x1="357.65" y1="474.08" x2="357.65" y2="480.69" stroke="#888" stroke-width="0.8"/>
<line x1="356.65" y1="474.08" x2="358.65" y2="474.08" stroke="#888" stroke-width="0.8"/>
<line x1="356.65" y1="480.69" x2="358.65" y2="480.69" stroke="#888" stroke-width="0.8"/>
<line x1="372.95" y1="477.82" x2="372.95" y2="484.43" stroke="#888" stroke-width="0.8"/>
<line x1="371.95" y1="477.82" x2="373.95" y2="477.82" stroke="#888" stroke-width="0.8"/>
<line x1="371.95" y1="484.43" x2="373.95" y2="484.43" stroke="#888" stroke-width="0.8"/>
<line x1="388.25" y1="476.72" x2="388.25" y2="483.33" stroke="#888" stroke-width="0.8"/>
<line x1="387.25" y1="476.72" x2="389.25" y2="476.72" stroke="#888" stroke-width="0.8"/>
<line x1="387.25" y1="483.33" x2="389.25" y2="483.33" stroke="#888" stroke-width="0.8"/>
<line x1="403.55" y1="475.62" x2="403.55" y2="480.02" stroke="#888" stroke-width="0.8"/>
<line x1="402.55" y1="475.62" x2="404.55" y2="475.62" stroke="#888" stroke-width="0.8"/>
<line x1="402.55" y1="480.02" x2="404.55" y2="480.02" stroke="#888" stroke-width="0.8"/>
<line x1="418.85" y1="476.94" x2="418.85" y2="481.35" stroke="#888" stroke-width="0.8"/>
<line x1="417.85" y1="476.94" x2="419.85" y2="476.94" stroke="#888" stroke-width="0.8"/>
<line x1="417.85" y1="481.35" x2="419.85" y2="481.35" stroke="#888" stroke-width="0.8"/>
<line x1="434.15" y1="473.2" x2="434.15" y2="477.6" stroke="#888" stroke-width="0.8"/>
<line x1="433.15" y1="473.2" x2="435.15" y2="473.2" stroke="#888" stroke-width="0.8"/>
<line x1="433.15" y1="477.6" x2="435.15" y2="477.6" stroke="#888" stroke-width="0.8"/>
<line x1="449.45" y1="473.2" x2="449.45" y2="477.6" stroke="#888" stroke-width="0.8"/>
<line x1="448.45" y1="473.2" x2="450.45" y2="473.2" stroke="#888" stroke-width="0.8"/>
<line x1="448.45" y1="477.6" x2="450.45" y2="477.6" stroke="#888" stroke-width="0.8"/>
<line x1="464.75" y1="478.04" x2="464.75" y2="482.45" stroke="#888" stroke-width="0.8"/>
<line x1="463.75" y1="478.04" x2="465.75" y2="478.04" stroke="#888" stroke-width="0.8"/>
<line x1="463.75" y1="482.45" x2="465.75" y2="482.45" stroke="#888" stroke-width="0.8"/>
<line x1="480.05" y1="476.94" x2="480.05" y2="481.35" stroke="#888" stroke-width="0.8"/>
<line x1="479.05" y1="476.94" x2="481.05" y2="476.94" stroke="#888" stroke-width="0.8"/>
<line x1="479.05" y1="481.35" x2="481.05" y2="481.35" stroke="#888" stroke-width="0.8"/>
<line x1="495.35" y1="476.5" x2="495.35" y2="480.91" stroke="#888" stroke-width="0.8"/>
<line x1="494.35" y1="476.5" x2="496.35" y2="476.5" stroke="#888" stroke-width="0.8"/>
<line x1="494.35" y1="480.91" x2="496.35" y2="480.91" stroke="#888" stroke-width="0.8"/>
<line x1="510.65" y1="474.96" x2="510.65" y2="479.36" stroke="#888" stroke-width="0.8"/>
<line x1="509.65" y1="474.96" x2="511.65" y2="474.96" stroke="#888" stroke-width="0.8"/>
<line x1="509.65" y1="479.36" x2="511.65" y2="479.36" stroke="#888" stroke-width="0.8"/>
<line x1="342.35" y1="376.33" x2="342.35" y2="397.02" stroke="#888" stroke-width="0.8"/>
<line x1="341.35" y1="376.33" x2="343.35" y2="376.33" stroke="#888" stroke-width="0.8"/>
<line x1="341.35" y1="397.02" x2="343.35" y2="397.02" stroke="#888" stroke-width="0.8"/>
<line x1="357.65" y1="363.12" x2="357.65" y2="385.13" stroke="#888" stroke-width="0.8"/>
<line x1="356.65" y1="363.12" x2="358.65" y2="363.12" stroke="#888" stroke-width="0.8"/>
<line x1="356.65" y1="385.13" x2="358.65" y2="385.13" stroke="#888" stroke-width="0.8"/>
<line x1="372.95" y1="372.58" x2="372.95" y2="394.6" stroke="#888" stroke-width="0.8"/>
<line x1="371.95" y1="372.58" x2="373.95" y2="372.58" stroke="#888" stroke-width="0.8"/>
<line x1="371.95" y1="394.6" x2="373.95" y2="394.6" stroke="#888" stroke-width="0.8"/>
<line x1="388.25" y1="378.97" x2="388.25" y2="409.79" stroke="#888" stroke-width="0.8"/>
<line x1="387.25" y1="378.97" x2="389.25" y2="378.97" stroke="#888" stroke-width="0.8"/>
<line x1="387.25" y1="409.79" x2="389.25" y2="409.79" stroke="#888" stroke-width="0.8"/>
<line x1="403.55" y1="425.86" x2="403.55" y2="430.27" stroke="#888" stroke-width="0.8"/>
<line x1="402.55" y1="425.86" x2="404.55" y2="425.86" stroke="#888" stroke-width="0.8"/>
<line x1="402.55" y1="430.27" x2="404.55" y2="430.27" stroke="#888" stroke-width="0.8"/>
<line x1="418.85" y1="435.55" x2="418.85" y2="459.77" stroke="#888" stroke-width="0.8"/>
<line x1="417.85" y1="435.55" x2="419.85" y2="435.55" stroke="#888" stroke-width="0.8"/>
<line x1="417.85" y1="459.77" x2="419.85" y2="459.77" stroke="#888" stroke-width="0.8"/>
<line x1="434.15" y1="445.24" x2="434.15" y2="458.45" stroke="#888" stroke-width="0.8"/>
<line x1="433.15" y1="445.24" x2="435.15" y2="445.24" stroke="#888" stroke-width="0.8"/>
<line x1="433.15" y1="458.45" x2="435.15" y2="458.45" stroke="#888" stroke-width="0.8"/>
<line x1="449.45" y1="457.57" x2="449.45" y2="466.37" stroke="#888" stroke-width="0.8"/>
<line x1="448.45" y1="457.57" x2="450.45" y2="457.57" stroke="#888" stroke-width="0.8"/>
<line x1="448.45" y1="466.37" x2="450.45" y2="466.37" stroke="#888" stroke-width="0.8"/>
<line x1="464.75" y1="458.89" x2="464.75" y2="463.29" stroke="#888" stroke-width="0.8"/>
<line x1="463.75" y1="458.89" x2="465.75" y2="458.89" stroke="#888" stroke-width="0.8"/>
<line x1="463.75" y1="463.29" x2="465.75" y2="463.29" stroke="#888" stroke-width="0.8"/>
<line x1="480.05" y1="456.69" x2="480.05" y2="463.29" stroke="#888" stroke-width="0.8"/>
<line x1="479.05" y1="456.69" x2="481.05" y2="456.69" stroke="#888" stroke-width="0.8"/>
<line x1="479.05" y1="463.29" x2="481.05" y2="463.29" stroke="#888" stroke-width="0.8"/>
<line x1="495.35" y1="461.97" x2="495.35" y2="466.37" stroke="#888" stroke-width="0.8"/>
<line x1="494.35" y1="461.97" x2="496.35" y2="461.97" stroke="#888" stroke-width="0.8"/>
<line x1="494.35" y1="466.37" x2="496.35" y2="466.37" stroke="#888" stroke-width="0.8"/>
<line x1="510.65" y1="464.61" x2="510.65" y2="471.22" stroke="#888" stroke-width="0.8"/>
<line x1="509.65" y1="464.61" x2="511.65" y2="464.61" stroke="#888" stroke-width="0.8"/>
<line x1="509.65" y1="471.22" x2="511.65" y2="471.22" stroke="#888" stroke-width="0.8"/>
<path d="M327.05 478.48L342.35 496.76L357.65 496.54L372.95 496.32L388.25 496.32L403.55 496.32L418.85 496.32L434.15 496.32L449.45 496.32L464.75 496.32L480.05 496.32L495.35 496.32L510.65 496.32" fill="none" stroke="#000" stroke-width="1.2" stroke-linejoin="round"/>
<path d="M327.05 478.48L342.35 478.48L357.65 474.52L372.95 480.24L388.25 476.28L403.55 482.01L418.85 477.16L434.15 476.72L449.45 476.28L464.75 479.14L480.05 477.82L495.35 476.28L510.65 477.16" fill="none" stroke="#000" stroke-width="1.2" stroke-linejoin="round"/>
<path d="M327.05 478.48L342.35 478.04L357.65 477.38L372.95 481.13L388.25 480.02L403.55 477.82L418.85 479.14L434.15 475.4L449.45 475.4L464.75 480.24L480.05 479.14L495.35 478.7L510.65 477.16" fill="none" stroke="#000" stroke-width="1.2" stroke-linejoin="round"/>
<path d="M327.05 478.48L342.35 386.67L357.65 374.12L372.95 383.59L388.25 394.38L403.55 428.07L418.85 447.66L434.15 451.84L449.45 461.97L464.75 461.09L480.05 459.99L495.35 464.17L510.65 467.92" fill="none" stroke="#000" stroke-width="1.2" stroke-linejoin="round"/>
<circle cx="327.05" cy="478.48" r="1.9" fill="#fff" stroke="#000" stroke-width="0.8"/>
<circle cx="342.35" cy="496.76" r="1.9" fill="#fff" stroke="#000" stroke-width="0.8"/>
<circle cx="357.65" cy="496.54" r="1.9" fill="#fff" stroke="#000" stroke-width="0.8"/>
<circle cx="372.95" cy="496.32" r="1.9" fill="#fff" stroke="#000" stroke-width="0.8"/>
<circle cx="388.25" cy="496.32" r="1.9" fill="#fff" stroke="#000" stroke-width="0.8"/>
<circle cx="403.55" cy="496.32" r="1.9" fill="#fff" stroke="#000" stroke-width="0.8"/>
<circle cx="418.85" cy="496.32" r="1.9" fill="#fff" stroke="#000" stroke-width="0.8"/>
<circle cx="434.15" cy="496.32" r="1.9" fill="#fff" stroke="#000" stroke-width="0.8"/>
<circle cx="449.45" cy="496.32" r="1.9" fill="#fff" stroke="#000" stroke-width="0.8"/>
<circle cx="464.75" cy="496.32" r="1.9" fill="#fff" stroke="#000" stroke-width="0.8"/>
<circle cx="480.05" cy="496.32" r="1.9" fill="#fff" stroke="#000" stroke-width="0.8"/>
<circle cx="495.35" cy="496.32" r="1.9" fill="#fff" stroke="#000" stroke-width="0.8"/>
<circle cx="510.65" cy="496.32" r="1.9" fill="#fff" stroke="#000" stroke-width="0.8"/>
<path d="M327.05 476.18L329.35 478.48L327.05 480.78L324.75 478.48Z" fill="#fff" stroke="#000" stroke-width="0.8"/>
<path d="M342.35 476.18L344.65 478.48L342.35 480.78L340.05 478.48Z" fill="#fff" stroke="#000" stroke-width="0.8"/>
<path d="M357.65 472.22L359.95 474.52L357.65 476.82L355.35 474.52Z" fill="#fff" stroke="#000" stroke-width="0.8"/>
<path d="M372.95 477.94L375.25 480.24L372.95 482.54L370.65 480.24Z" fill="#fff" stroke="#000" stroke-width="0.8"/>
<path d="M388.25 473.98L390.55 476.28L388.25 478.58L385.95 476.28Z" fill="#fff" stroke="#000" stroke-width="0.8"/>
<path d="M403.55 479.71L405.85 482.01L403.55 484.31L401.25 482.01Z" fill="#fff" stroke="#000" stroke-width="0.8"/>
<path d="M418.85 474.86L421.15 477.16L418.85 479.46L416.55 477.16Z" fill="#fff" stroke="#000" stroke-width="0.8"/>
<path d="M434.15 474.42L436.45 476.72L434.15 479.02L431.85 476.72Z" fill="#fff" stroke="#000" stroke-width="0.8"/>
<path d="M449.45 473.98L451.75 476.28L449.45 478.58L447.15 476.28Z" fill="#fff" stroke="#000" stroke-width="0.8"/>
<path d="M464.75 476.84L467.05 479.14L464.75 481.44L462.45 479.14Z" fill="#fff" stroke="#000" stroke-width="0.8"/>
<path d="M480.05 475.52L482.35 477.82L480.05 480.12L477.75 477.82Z" fill="#fff" stroke="#000" stroke-width="0.8"/>
<path d="M495.35 473.98L497.65 476.28L495.35 478.58L493.05 476.28Z" fill="#fff" stroke="#000" stroke-width="0.8"/>
<path d="M510.65 474.86L512.95 477.16L510.65 479.46L508.35 477.16Z" fill="#fff" stroke="#000" stroke-width="0.8"/>
<path d="M327.05 476.08L329.45 480.28L324.65 480.28Z" fill="#000"/>
<path d="M342.35 475.64L344.75 479.84L339.95 479.84Z" fill="#000"/>
<path d="M357.65 474.98L360.05 479.18L355.25 479.18Z" fill="#000"/>
<path d="M372.95 478.73L375.35 482.93L370.55 482.93Z" fill="#000"/>
<path d="M388.25 477.62L390.65 481.82L385.85 481.82Z" fill="#000"/>
<path d="M403.55 475.42L405.95 479.62L401.15 479.62Z" fill="#000"/>
<path d="M418.85 476.74L421.25 480.94L416.45 480.94Z" fill="#000"/>
<path d="M434.15 473L436.55 477.2L431.75 477.2Z" fill="#000"/>
<path d="M449.45 473L451.85 477.2L447.05 477.2Z" fill="#000"/>
<path d="M464.75 477.84L467.15 482.04L462.35 482.04Z" fill="#000"/>
<path d="M480.05 476.74L482.45 480.94L477.65 480.94Z" fill="#000"/>
<path d="M495.35 476.3L497.75 480.5L492.95 480.5Z" fill="#000"/>
<path d="M510.65 474.76L513.05 478.96L508.25 478.96Z" fill="#000"/>
<rect x="325.25" y="476.68" width="3.6" height="3.6" fill="#000"/>
<rect x="340.55" y="384.87" width="3.6" height="3.6" fill="#000"/>
<rect x="355.85" y="372.32" width="3.6" height="3.6" fill="#000"/>
<rect x="371.15" y="381.79" width="3.6" height="3.6" fill="#000"/>
<rect x="386.45" y="392.58" width="3.6" height="3.6" fill="#000"/>
<rect x="401.75" y="426.27" width="3.6" height="3.6" fill="#000"/>
<rect x="417.05" y="445.86" width="3.6" height="3.6" fill="#000"/>
<rect x="432.35" y="450.04" width="3.6" height="3.6" fill="#000"/>
<rect x="447.65" y="460.17" width="3.6" height="3.6" fill="#000"/>
<rect x="462.95" y="459.29" width="3.6" height="3.6" fill="#000"/>
<rect x="478.25" y="458.19" width="3.6" height="3.6" fill="#000"/>
<rect x="493.55" y="462.37" width="3.6" height="3.6" fill="#000"/>
<rect x="508.85" y="466.12" width="3.6" height="3.6" fill="#000"/>
<circle cx="327.05" cy="478.48" r="2.4" fill="#000"/>
<text x="377.7" y="374.4" font-size="6.9" font-weight="bold" text-anchor="start">VEGF</text>
<text x="378.4" y="471" font-size="6.9" font-weight="bold" text-anchor="start">ALK5</text>
<text x="404.6" y="471" font-size="6.9" font-weight="bold" text-anchor="start">MGP</text>
<text x="378.4" y="491" font-size="6.9" font-weight="bold" text-anchor="start">ALK1</text>
</svg></body></html>
